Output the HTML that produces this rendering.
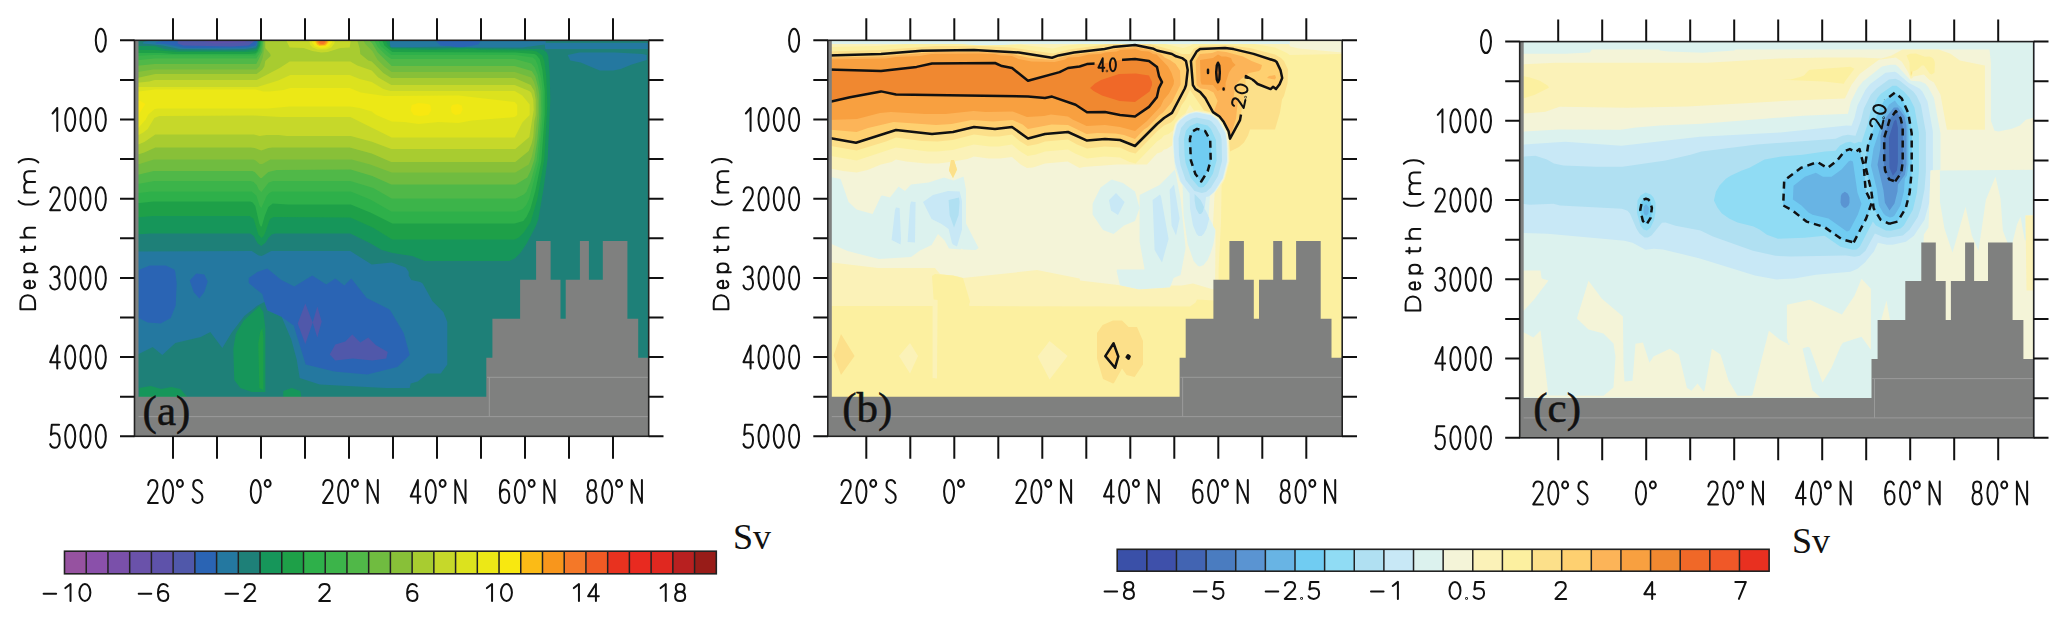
<!DOCTYPE html><html><head><meta charset="utf-8"><style>html,body{margin:0;padding:0;background:#fff;}svg{display:block;}</style></head><body>
<svg width="2067" height="620" viewBox="0 0 2067 620">
<rect width="2067" height="620" fill="#fff"/>
<defs>
<mask id="m1" maskUnits="userSpaceOnUse" x="-10" y="-10" width="540" height="420"><rect x="-10" y="-10" width="540" height="420" fill="#fff"/><rect x="-13.75" y="-10.0" width="27.5" height="20" fill="#000" transform="translate(280.5,24.7) rotate(0)"/><rect x="-18.0" y="-7.5" width="36" height="15" fill="#000" transform="translate(412.8,55.7) rotate(-78)"/></mask>
<mask id="m2" maskUnits="userSpaceOnUse" x="-10" y="-10" width="540" height="420"><rect x="-10" y="-10" width="540" height="420" fill="#fff"/><rect x="-18.0" y="-7.5" width="36" height="15" fill="#000" transform="translate(359.0,74.9) rotate(-77.5)"/></mask>
</defs>
<g transform="translate(134.5,40.3)">
<rect x="0" y="0" width="514.5" height="396.0" fill="#5e52aa"/>
<path fill="#5058aa" fill-rule="evenodd" d="M0.2 0.2L0.2 395.8L514.2 395.8L514.2 0.2L112.8 0.2L110.2 2.2L79.2 3.2L67.2 0.2Z"/>
<path fill="#2a64b4" fill-rule="evenodd" d="M195.2 314.2L200.8 304.2L210.8 301.2L217.8 294.2L225.8 302.2L233.8 297.2L241.2 304.8L253.2 311.8L251.8 318.2L237.8 320.2L218.2 318.2L200.8 320.2ZM182.8 266.2L187.2 281.2L182.8 297.2L178.2 282.2ZM170.8 263.2L178.2 282.2L170.8 303.8L163.2 283.2ZM0.2 0.2L0.2 395.8L514.2 395.8L514.2 0.2L120.8 0.2L114.2 5.2L96.8 6.2L48.8 5.2L43.2 3.2L43.2 0.2Z"/>
<path fill="#2478a0" fill-rule="evenodd" d="M61.8 233.2L69.8 234.2L73.2 241.2L69.8 251.8L64.8 258.2L59.2 251.8L55.2 240.2ZM114.2 237.8L122.8 231.8L132.8 228.2L146.8 239.8L159.8 246.2L177.8 235.2L191.8 244.2L200.8 238.2L209.8 245.2L216.8 238.2L232.2 257.8L254.2 268.8L255.8 270.2L269.2 292.8L275.2 314.8L262.8 326.8L232.8 334.2L199.8 331.2L171.2 324.2L159.2 285.2L147.2 276.8L132.2 269.8L127.8 253.8L114.2 242.8ZM15.2 225.2L31.2 225.2L39.8 229.2L40.8 231.8L42.2 243.2L41.2 265.2L36.2 277.8L26.2 283.2L13.2 282.2L4.2 277.8L4.2 229.8ZM0.2 0.2L0.2 395.8L514.2 395.8L514.2 0.2L346.2 0.2L343.8 4.2L327.2 7.2L305.8 5.2L301.2 0.2L122.8 0.2L121.2 5.2L111.8 7.2L50.8 7.8L30.8 3.8L21.2 3.2L21.2 2.2L30.8 0.2Z"/>
<path fill="#1e8078" fill-rule="evenodd" d="M433.2 14.8L444.8 12.2L480.8 12.2L507.8 13.8L512.2 14.8L512.2 19.8L497.2 24.2L486.2 28.8L478.8 30.2L465.2 30.2L446.2 22.2L435.8 20.2ZM0.2 0.2L0.2 211.2L117.2 210.8L124.2 215.2L127.2 215.8L136.8 210.8L215.8 210.8L237.2 224.2L257.2 222.2L271.2 227.2L274.2 231.8L274.2 235.2L276.8 239.8L285.8 241.8L288.2 243.2L297.8 260.8L308.8 271.8L312.8 281.8L312.8 324.2L306.2 333.2L293.2 333.2L283.2 341.2L276.2 343.2L275.2 347.8L251.2 347.8L185.2 344.2L165.2 337.8L162.2 319.2L156.8 299.2L147.2 276.8L132.8 270.2L129.8 261.8L122.2 265.8L109.8 275.8L97.2 292.2L87.8 307.8L75.8 291.8L66.2 296.8L40.8 302.8L27.8 314.8L18.2 306.8L0.2 315.8L0.2 359.8L275.2 359.8L275.8 395.8L514.2 395.8L514.2 0.2L411.2 0.2L411.2 2.8L513.8 2.8L513.8 8.8L410.8 8.8L410.2 4.2L387.8 7.2L323.8 7.2L315.8 6.2L255.8 7.2L255.2 0.2L123.2 0.2L122.8 4.8L121.2 7.2L111.2 8.8L89.8 9.2L45.2 8.8L28.2 5.2L8.8 3.2L8.2 2.8L9.2 1.8L14.8 0.2Z"/>
<path fill="#16965a" fill-rule="evenodd" d="M148.8 350.8L148.8 356.8L166.8 356.8L165.8 350.8L157.2 347.8ZM4.8 347.8L4.8 356.8L52.8 356.8L45.8 348.8L36.8 346.8L26.8 348.8L16.2 345.8ZM124.8 265.8L109.2 280.2L102.8 290.8L101.2 294.2L98.8 308.8L99.8 339.8L105.8 347.8L117.2 351.8L130.8 351.8L130.8 287.8L128.8 271.8ZM0.2 5.8L0.2 194.2L16.2 193.2L115.8 193.2L119.2 195.8L123.2 203.2L126.8 205.8L131.2 202.2L133.8 197.8L137.2 194.2L140.8 193.2L215.8 193.2L236.2 203.2L247.2 209.8L258.2 212.8L277.8 215.8L290.2 220.8L374.8 220.8L380.2 218.2L386.2 212.2L392.2 203.2L401.2 186.2L403.8 179.2L409.2 147.2L413.2 118.2L415.8 59.8L415.2 33.2L413.8 15.8L412.2 12.2L409.2 9.8L404.8 8.8L346.2 8.2L331.8 7.2L299.8 8.2L255.8 7.2L255.2 0.2L124.2 0.2L123.8 5.2L121.8 8.8L109.8 10.2L45.2 10.2L30.2 8.8L20.2 5.8Z"/>
<path fill="#1ea048" fill-rule="evenodd" d="M127.8 287.8L125.8 291.2L123.8 303.2L124.8 347.8L128.8 349.8L128.8 297.2ZM0.2 9.8L0.2 177.2L18.2 175.8L115.2 175.8L119.2 178.8L123.8 194.2L126.8 197.8L128.8 196.2L130.8 192.2L134.8 180.2L136.2 178.2L139.2 176.8L215.8 177.2L238.2 187.2L257.8 199.2L380.2 199.2L384.2 197.2L389.2 192.2L396.2 181.8L402.8 158.8L409.8 118.8L412.8 64.8L411.8 36.8L409.8 20.8L407.8 15.2L402.2 11.2L397.2 10.2L347.2 9.8L332.8 8.8L298.8 9.8L257.8 8.8L253.2 5.2L251.2 0.2L125.2 0.2L124.8 5.2L121.8 10.8L112.2 11.8L42.2 11.8L20.8 9.8Z"/>
<path fill="#2eb04a" fill-rule="evenodd" d="M0.2 12.8L0.2 163.2L19.2 161.2L115.8 161.2L118.2 162.2L120.8 165.8L124.8 183.2L126.2 186.2L127.2 186.2L130.2 175.8L133.8 166.8L138.2 163.2L153.2 164.2L216.2 164.2L235.8 172.2L257.8 183.2L380.2 183.2L388.8 180.8L392.2 176.2L395.8 168.8L400.8 150.8L406.8 121.2L410.2 74.8L410.2 50.2L407.8 29.2L405.2 18.8L401.8 14.8L399.8 13.8L381.2 12.2L257.8 11.8L249.8 5.2L247.8 0.2L126.2 0.2L125.8 5.2L122.8 11.8L120.8 13.2L114.2 13.8L38.8 13.8L27.2 12.8Z"/>
<path fill="#3cb44a" fill-rule="evenodd" d="M0.2 15.8L0.2 153.2L17.2 151.2L117.2 151.2L121.8 155.2L125.2 165.8L126.8 167.8L132.2 155.8L134.8 152.8L137.8 151.2L216.2 151.2L235.8 159.2L256.8 171.2L381.8 171.2L388.2 168.8L391.8 164.8L394.8 158.2L404.2 121.8L408.2 76.2L408.2 51.2L406.8 38.8L403.2 24.8L400.8 19.2L398.2 17.2L380.8 14.8L256.8 14.8L246.2 5.8L243.8 0.2L127.2 0.2L125.2 10.2L120.8 15.2L18.8 14.8Z"/>
<path fill="#50b848" fill-rule="evenodd" d="M0.2 20.2L0.2 144.2L19.8 140.8L116.2 140.8L119.2 141.8L122.2 144.8L124.2 149.2L126.8 151.8L134.2 142.2L138.8 140.8L215.8 140.8L238.8 147.8L257.2 158.2L381.2 158.2L389.2 154.2L391.8 151.8L396.2 141.2L402.2 119.8L405.2 93.2L406.8 71.2L406.2 50.8L403.2 34.8L400.2 27.2L396.8 23.2L380.2 18.8L256.8 18.8L251.8 15.2L243.2 6.8L239.8 0.2L128.2 0.2L126.2 11.2L121.8 18.2L20.2 18.2Z"/>
<path fill="#70bc40" fill-rule="evenodd" d="M0.2 25.8L0.2 135.2L19.2 130.8L117.8 130.8L120.2 131.8L125.8 137.8L127.2 137.8L133.8 131.8L142.2 129.8L216.2 129.2L237.8 135.8L256.8 144.2L381.2 144.2L392.8 137.2L396.2 130.2L399.8 119.2L402.8 99.8L404.8 76.2L404.8 54.8L403.8 47.8L400.8 36.2L397.2 30.8L380.2 25.8L257.2 25.8L243.2 12.2L237.8 3.2L234.8 0.2L128.8 0.2L127.8 11.8L121.8 23.8L20.2 23.8Z"/>
<path fill="#88c038" fill-rule="evenodd" d="M0.2 32.2L0.2 125.2L19.2 119.2L118.8 119.2L121.2 120.2L125.2 123.8L127.8 123.8L135.8 119.2L217.2 119.2L235.8 124.2L257.2 132.2L380.8 132.2L394.2 124.2L397.2 116.8L399.8 104.8L403.2 72.2L403.2 59.8L401.2 47.2L399.2 41.2L396.8 37.2L380.2 31.8L257.2 31.8L249.8 26.2L242.8 19.2L237.8 10.8L231.2 4.2L228.8 0.2L129.8 0.2L129.8 8.2L128.2 17.8L124.8 26.2L121.8 29.2L18.8 29.2Z"/>
<path fill="#a8cc30" fill-rule="evenodd" d="M0.2 38.2L0.2 115.2L9.8 112.2L20.8 107.2L116.2 107.2L120.2 107.8L126.8 110.2L133.8 107.8L138.2 107.2L215.2 107.2L237.2 113.2L256.8 121.8L380.8 121.8L394.2 110.8L397.2 103.2L398.8 96.2L399.8 81.2L401.2 74.8L401.2 59.8L399.8 50.8L396.2 44.8L380.2 37.8L256.8 37.8L248.8 32.8L237.2 21.2L233.8 20.2L225.8 13.8L225.2 8.2L222.8 0.2L130.8 0.2L130.8 7.8L135.8 13.8L136.2 15.8L130.8 20.8L129.8 26.2L127.8 29.2L122.2 33.8L20.8 33.8Z"/>
<path fill="#c6d82a" fill-rule="evenodd" d="M0.2 42.8L0.2 105.8L9.8 101.8L20.8 94.2L119.2 94.2L125.2 95.8L131.8 94.8L144.2 94.8L152.2 95.8L216.2 95.8L236.8 101.2L256.8 108.8L380.8 108.8L394.8 96.8L399.2 69.8L398.8 59.8L396.8 52.8L394.8 50.8L380.2 44.8L256.8 44.8L243.8 37.2L237.2 30.2L222.8 25.2L215.8 21.2L155.2 21.2L145.2 27.8L122.2 39.8L20.2 39.8L14.8 41.2ZM151.8 0.2L155.2 7.2L169.2 7.8L177.8 10.8L186.8 12.2L193.2 11.8L205.8 7.8L215.2 7.2L216.2 0.2Z"/>
<path fill="#dce21e" fill-rule="evenodd" d="M0.2 46.8L0.2 96.8L8.8 92.2L13.2 88.8L19.8 77.8L24.8 75.8L118.8 75.2L146.2 76.8L215.8 76.8L257.2 97.2L380.2 97.2L387.8 82.2L395.2 74.8L395.2 64.2L387.8 55.2L380.2 50.8L255.8 50.8L248.8 48.8L237.2 41.8L225.2 38.8L215.2 34.8L155.8 34.8L143.8 40.2L122.8 46.8ZM174.8 0.8L175.8 4.8L178.2 7.2L183.2 9.2L191.8 9.2L196.8 7.2L200.2 2.8L199.8 0.2Z"/>
<path fill="#ece816" fill-rule="evenodd" d="M0.2 51.8L0.2 89.2L3.8 87.8L11.2 79.2L13.8 74.2L20.2 68.8L23.2 68.2L133.2 68.2L155.2 66.2L215.8 66.2L225.2 67.8L237.2 71.2L241.8 74.8L257.2 81.2L269.8 81.8L284.2 83.8L303.8 81.8L323.8 82.8L337.2 80.2L380.2 76.8L382.8 74.8L382.8 64.8L380.2 61.8L324.2 55.2L250.2 55.8L226.2 52.2L215.2 47.8L155.8 47.8L149.2 49.8L135.2 51.2L128.8 51.2L121.2 49.2L20.2 49.2ZM177.2 1.8L180.2 6.2L186.8 8.2L191.2 7.8L194.8 6.2L197.8 1.8L197.2 0.2L177.8 0.2Z"/>
<path fill="#f8e810" fill-rule="evenodd" d="M317.8 64.8L316.2 67.2L317.2 72.2L320.8 74.8L325.8 73.8L328.2 69.2L327.2 65.2L323.2 63.8ZM277.2 64.8L276.2 70.2L279.2 74.8L285.8 75.8L293.8 74.8L296.8 70.2L295.8 64.8L293.2 63.8L284.2 62.8ZM5.8 60.8L0.2 60.8L0.2 79.8L3.2 77.8L5.8 71.8L10.8 63.8ZM179.2 1.2L180.2 4.2L184.8 6.8L191.8 6.2L193.8 5.2L195.8 2.2L195.2 0.2L179.8 0.2Z"/>
<path fill="#fbbb16" fill-rule="evenodd" d="M180.8 1.8L182.8 4.8L185.2 5.8L191.2 5.2L194.2 1.8L193.2 0.2L181.8 0.2Z"/>
<path fill="#f8961c" fill-rule="evenodd" d="M182.8 0.8L182.8 2.8L185.2 4.8L189.8 4.8L192.2 2.8L192.2 0.8L191.2 0.2Z"/>
<path fill="#f47828" fill-rule="evenodd" d="M184.2 1.2L184.2 2.2L186.2 3.8L188.8 3.8L190.8 2.2L190.8 1.2L188.8 0.2Z"/>
<polygon points="0.0,396.2 0.0,356.5 351.8,356.5 351.8,317.5 357.9,317.5 357.9,278.5 385.6,278.5 385.6,239.5 401.6,239.5 401.6,200.8 416.1,200.8 416.1,239.5 426.0,239.5 426.0,278.5 431.2,278.5 431.2,239.5 445.4,239.5 445.4,200.8 454.4,200.8 454.4,239.5 468.3,239.5 468.3,200.8 492.9,200.8 492.9,278.5 503.7,278.5 503.7,317.5 514.5,317.5 514.5,396.2" fill="#7f807f"/>
<rect x="0" y="0" width="4" height="396" fill="#7f807f"/>
<path d="M4 376.3H514 M352.5 337H514 M354.8 337V376.3" stroke="#9a9a9a" stroke-width="1" fill="none"/>
</g>
<rect x="134.5" y="40.3" width="514.2" height="396.0" fill="none" stroke="#222" stroke-width="1.6"/>
<path d="M173.0 18.3V40.3M173.0 436.3V458.8M217.0 18.3V40.3M217.0 436.3V458.8M261.0 18.3V40.3M261.0 436.3V458.8M305.0 18.3V40.3M305.0 436.3V458.8M349.0 18.3V40.3M349.0 436.3V458.8M393.0 18.3V40.3M393.0 436.3V458.8M437.0 18.3V40.3M437.0 436.3V458.8M481.0 18.3V40.3M481.0 436.3V458.8M525.0 18.3V40.3M525.0 436.3V458.8M569.0 18.3V40.3M569.0 436.3V458.8M613.0 18.3V40.3M613.0 436.3V458.8M120.0 40.3H134.5M648.7 40.3H663.5M120.0 79.9H134.5M648.7 79.9H663.5M120.0 119.5H134.5M648.7 119.5H663.5M120.0 159.1H134.5M648.7 159.1H663.5M120.0 198.7H134.5M648.7 198.7H663.5M120.0 238.3H134.5M648.7 238.3H663.5M120.0 277.9H134.5M648.7 277.9H663.5M120.0 317.5H134.5M648.7 317.5H663.5M120.0 357.1H134.5M648.7 357.1H663.5M120.0 396.7H134.5M648.7 396.7H663.5M120.0 436.3H134.5M648.7 436.3H663.5" stroke="#111" stroke-width="2" fill="none"/>
<g fill="none" stroke="#111" stroke-width="2.0" stroke-linecap="round" stroke-linejoin="round" vector-effect="non-scaling-stroke" style="vector-effect:non-scaling-stroke"><path d="M24.5 0C38 0 49 22 49 50C49 78 38 100 24.5 100C11 100 0 78 0 50C0 22 11 0 24.5 0Z" transform="translate(95.80,28.80) scale(0.2040,0.2300)" vector-effect="non-scaling-stroke"/><path d="M13 24L36 0L36 100" transform="translate(49.92,108.00) scale(0.2040,0.2300)" vector-effect="non-scaling-stroke"/><path d="M24.5 0C38 0 49 22 49 50C49 78 38 100 24.5 100C11 100 0 78 0 50C0 22 11 0 24.5 0Z" transform="translate(65.21,108.00) scale(0.2040,0.2300)" vector-effect="non-scaling-stroke"/><path d="M24.5 0C38 0 49 22 49 50C49 78 38 100 24.5 100C11 100 0 78 0 50C0 22 11 0 24.5 0Z" transform="translate(80.51,108.00) scale(0.2040,0.2300)" vector-effect="non-scaling-stroke"/><path d="M24.5 0C38 0 49 22 49 50C49 78 38 100 24.5 100C11 100 0 78 0 50C0 22 11 0 24.5 0Z" transform="translate(95.80,108.00) scale(0.2040,0.2300)" vector-effect="non-scaling-stroke"/><path d="M2 21C4 8 13 0 24.5 0C38 0 47 10 47 25C47 38 40 48 30 60L1 100L49 100" transform="translate(49.92,187.20) scale(0.2040,0.2300)" vector-effect="non-scaling-stroke"/><path d="M24.5 0C38 0 49 22 49 50C49 78 38 100 24.5 100C11 100 0 78 0 50C0 22 11 0 24.5 0Z" transform="translate(65.21,187.20) scale(0.2040,0.2300)" vector-effect="non-scaling-stroke"/><path d="M24.5 0C38 0 49 22 49 50C49 78 38 100 24.5 100C11 100 0 78 0 50C0 22 11 0 24.5 0Z" transform="translate(80.51,187.20) scale(0.2040,0.2300)" vector-effect="non-scaling-stroke"/><path d="M24.5 0C38 0 49 22 49 50C49 78 38 100 24.5 100C11 100 0 78 0 50C0 22 11 0 24.5 0Z" transform="translate(95.80,187.20) scale(0.2040,0.2300)" vector-effect="non-scaling-stroke"/><path d="M3 14C7 5 15 0 24.5 0C37 0 46 9 46 24C46 38 37 46 22 46C39 46 48 57 48 73C48 89 38 100 24 100C12 100 4 93 1 83" transform="translate(49.92,266.40) scale(0.2040,0.2300)" vector-effect="non-scaling-stroke"/><path d="M24.5 0C38 0 49 22 49 50C49 78 38 100 24.5 100C11 100 0 78 0 50C0 22 11 0 24.5 0Z" transform="translate(65.21,266.40) scale(0.2040,0.2300)" vector-effect="non-scaling-stroke"/><path d="M24.5 0C38 0 49 22 49 50C49 78 38 100 24.5 100C11 100 0 78 0 50C0 22 11 0 24.5 0Z" transform="translate(80.51,266.40) scale(0.2040,0.2300)" vector-effect="non-scaling-stroke"/><path d="M24.5 0C38 0 49 22 49 50C49 78 38 100 24.5 100C11 100 0 78 0 50C0 22 11 0 24.5 0Z" transform="translate(95.80,266.40) scale(0.2040,0.2300)" vector-effect="non-scaling-stroke"/><path d="M36 100L36 0L1 72L49 72" transform="translate(49.92,345.60) scale(0.2040,0.2300)" vector-effect="non-scaling-stroke"/><path d="M24.5 0C38 0 49 22 49 50C49 78 38 100 24.5 100C11 100 0 78 0 50C0 22 11 0 24.5 0Z" transform="translate(65.21,345.60) scale(0.2040,0.2300)" vector-effect="non-scaling-stroke"/><path d="M24.5 0C38 0 49 22 49 50C49 78 38 100 24.5 100C11 100 0 78 0 50C0 22 11 0 24.5 0Z" transform="translate(80.51,345.60) scale(0.2040,0.2300)" vector-effect="non-scaling-stroke"/><path d="M24.5 0C38 0 49 22 49 50C49 78 38 100 24.5 100C11 100 0 78 0 50C0 22 11 0 24.5 0Z" transform="translate(95.80,345.60) scale(0.2040,0.2300)" vector-effect="non-scaling-stroke"/><path d="M45 0L9 0L5 44C10 39 17 37 25 37C39 37 48 49 48 67C48 87 38 100 24 100C12 100 4 93 1 84" transform="translate(49.92,424.80) scale(0.2040,0.2300)" vector-effect="non-scaling-stroke"/><path d="M24.5 0C38 0 49 22 49 50C49 78 38 100 24.5 100C11 100 0 78 0 50C0 22 11 0 24.5 0Z" transform="translate(65.21,424.80) scale(0.2040,0.2300)" vector-effect="non-scaling-stroke"/><path d="M24.5 0C38 0 49 22 49 50C49 78 38 100 24.5 100C11 100 0 78 0 50C0 22 11 0 24.5 0Z" transform="translate(80.51,424.80) scale(0.2040,0.2300)" vector-effect="non-scaling-stroke"/><path d="M24.5 0C38 0 49 22 49 50C49 78 38 100 24.5 100C11 100 0 78 0 50C0 22 11 0 24.5 0Z" transform="translate(95.80,424.80) scale(0.2040,0.2300)" vector-effect="non-scaling-stroke"/><path d="M2 21C4 8 13 0 24.5 0C38 0 47 10 47 25C47 38 40 48 30 60L1 100L49 100" transform="translate(147.80,480.10) scale(0.2040,0.2280)" vector-effect="non-scaling-stroke"/><path d="M24.5 0C38 0 49 22 49 50C49 78 38 100 24.5 100C11 100 0 78 0 50C0 22 11 0 24.5 0Z" transform="translate(163.10,480.10) scale(0.2040,0.2280)" vector-effect="non-scaling-stroke"/><path d="M14.5 0C22.5 0 29 6.7 29 15C29 23.3 22.5 30 14.5 30C6.5 30 0 23.3 0 15C0 6.7 6.5 0 14.5 0Z" transform="translate(176.99,480.10) scale(0.2040,0.2280)" vector-effect="non-scaling-stroke"/><path d="M46 13C42 5 35 0 25 0C13 0 4 8 4 23C4 53 49 44 49 75C49 91 38 100 25 100C13 100 5 94 1 84" transform="translate(192.41,480.10) scale(0.2040,0.2280)" vector-effect="non-scaling-stroke"/><path d="M24.5 0C38 0 49 22 49 50C49 78 38 100 24.5 100C11 100 0 78 0 50C0 22 11 0 24.5 0Z" transform="translate(250.80,480.10) scale(0.2040,0.2280)" vector-effect="non-scaling-stroke"/><path d="M14.5 0C22.5 0 29 6.7 29 15C29 23.3 22.5 30 14.5 30C6.5 30 0 23.3 0 15C0 6.7 6.5 0 14.5 0Z" transform="translate(264.70,480.10) scale(0.2040,0.2280)" vector-effect="non-scaling-stroke"/><path d="M2 21C4 8 13 0 24.5 0C38 0 47 10 47 25C47 38 40 48 30 60L1 100L49 100" transform="translate(322.80,480.10) scale(0.2040,0.2280)" vector-effect="non-scaling-stroke"/><path d="M24.5 0C38 0 49 22 49 50C49 78 38 100 24.5 100C11 100 0 78 0 50C0 22 11 0 24.5 0Z" transform="translate(338.10,480.10) scale(0.2040,0.2280)" vector-effect="non-scaling-stroke"/><path d="M14.5 0C22.5 0 29 6.7 29 15C29 23.3 22.5 30 14.5 30C6.5 30 0 23.3 0 15C0 6.7 6.5 0 14.5 0Z" transform="translate(351.99,480.10) scale(0.2040,0.2280)" vector-effect="non-scaling-stroke"/><path d="M1 100L1 0L51 100L51 0" transform="translate(367.41,480.10) scale(0.2040,0.2280)" vector-effect="non-scaling-stroke"/><path d="M36 100L36 0L1 72L49 72" transform="translate(410.50,480.10) scale(0.2040,0.2280)" vector-effect="non-scaling-stroke"/><path d="M24.5 0C38 0 49 22 49 50C49 78 38 100 24.5 100C11 100 0 78 0 50C0 22 11 0 24.5 0Z" transform="translate(425.80,480.10) scale(0.2040,0.2280)" vector-effect="non-scaling-stroke"/><path d="M14.5 0C22.5 0 29 6.7 29 15C29 23.3 22.5 30 14.5 30C6.5 30 0 23.3 0 15C0 6.7 6.5 0 14.5 0Z" transform="translate(439.69,480.10) scale(0.2040,0.2280)" vector-effect="non-scaling-stroke"/><path d="M1 100L1 0L51 100L51 0" transform="translate(455.11,480.10) scale(0.2040,0.2280)" vector-effect="non-scaling-stroke"/><path d="M45 13C41 4 34 0 26 0C10 0 2 22 2 55C2 84 11 100 25 100C39 100 48 88 48 70C48 52 39 41 26 41C14 41 5 49 2 60" transform="translate(499.50,480.10) scale(0.2040,0.2280)" vector-effect="non-scaling-stroke"/><path d="M24.5 0C38 0 49 22 49 50C49 78 38 100 24.5 100C11 100 0 78 0 50C0 22 11 0 24.5 0Z" transform="translate(514.80,480.10) scale(0.2040,0.2280)" vector-effect="non-scaling-stroke"/><path d="M14.5 0C22.5 0 29 6.7 29 15C29 23.3 22.5 30 14.5 30C6.5 30 0 23.3 0 15C0 6.7 6.5 0 14.5 0Z" transform="translate(528.69,480.10) scale(0.2040,0.2280)" vector-effect="non-scaling-stroke"/><path d="M1 100L1 0L51 100L51 0" transform="translate(544.11,480.10) scale(0.2040,0.2280)" vector-effect="non-scaling-stroke"/><path d="M24.5 46C12 46 5 37 5 23C5 9 12 0 24.5 0C37 0 44 9 44 23C44 37 37 46 24.5 46C11 46 2 57 2 73C2 90 11 100 24.5 100C38 100 47 90 47 73C47 57 38 46 24.5 46Z" transform="translate(586.90,480.10) scale(0.2040,0.2280)" vector-effect="non-scaling-stroke"/><path d="M24.5 0C38 0 49 22 49 50C49 78 38 100 24.5 100C11 100 0 78 0 50C0 22 11 0 24.5 0Z" transform="translate(602.20,480.10) scale(0.2040,0.2280)" vector-effect="non-scaling-stroke"/><path d="M14.5 0C22.5 0 29 6.7 29 15C29 23.3 22.5 30 14.5 30C6.5 30 0 23.3 0 15C0 6.7 6.5 0 14.5 0Z" transform="translate(616.09,480.10) scale(0.2040,0.2280)" vector-effect="non-scaling-stroke"/><path d="M1 100L1 0L51 100L51 0" transform="translate(631.51,480.10) scale(0.2040,0.2280)" vector-effect="non-scaling-stroke"/></g>
<path d="M2 0L2 100L42 100C76 100 98 80 98 50C98 20 76 0 42 0Z" transform="translate(35.10,309.60) rotate(-90) scale(0.147) translate(0,-100)" fill="none" stroke="#111" stroke-width="2" stroke-linecap="round" stroke-linejoin="round" vector-effect="non-scaling-stroke"/>
<path d="M2 64L52 64C52 42 42 26 27 26C12 26 2 42 2 63C2 85 12 100 27 100C38 100 46 94 50 86" transform="translate(35.10,288.50) rotate(-90) scale(0.147) translate(0,-100)" fill="none" stroke="#111" stroke-width="2" stroke-linecap="round" stroke-linejoin="round" vector-effect="non-scaling-stroke"/>
<path d="M2 26L2 116M2 63C2 40 15 26 32 26C49 26 62 40 62 63C62 86 49 100 32 100C15 100 2 86 2 63" transform="translate(35.10,272.60) rotate(-90) scale(0.147) translate(0,-100)" fill="none" stroke="#111" stroke-width="2" stroke-linecap="round" stroke-linejoin="round" vector-effect="non-scaling-stroke"/>
<path d="M14 4L14 86C14 95 19 100 27 100L38 100M0 26L38 26" transform="translate(35.10,252.00) rotate(-90) scale(0.147) translate(0,-100)" fill="none" stroke="#111" stroke-width="2" stroke-linecap="round" stroke-linejoin="round" vector-effect="non-scaling-stroke"/>
<path d="M2 0L2 100M2 56C2 37 16 26 36 26C56 26 68 37 68 54L68 100" transform="translate(35.10,237.70) rotate(-90) scale(0.147) translate(0,-100)" fill="none" stroke="#111" stroke-width="2" stroke-linecap="round" stroke-linejoin="round" vector-effect="non-scaling-stroke"/>
<path d="M38 -12C6 14 6 96 38 122" transform="translate(35.10,206.60) rotate(-90) scale(0.147) translate(0,-100)" fill="none" stroke="#111" stroke-width="2" stroke-linecap="round" stroke-linejoin="round" vector-effect="non-scaling-stroke"/>
<path d="M2 26L2 100M2 56C2 37 15 26 38 26C61 26 75 37 75 56L75 100M75 56C75 37 89 26 112 26C135 26 148 37 148 56L148 100" transform="translate(35.10,192.90) rotate(-90) scale(0.147) translate(0,-100)" fill="none" stroke="#111" stroke-width="2" stroke-linecap="round" stroke-linejoin="round" vector-effect="non-scaling-stroke"/>
<path d="M2 -12C34 14 34 96 2 122" transform="translate(35.10,162.70) rotate(-90) scale(0.147) translate(0,-100)" fill="none" stroke="#111" stroke-width="2" stroke-linecap="round" stroke-linejoin="round" vector-effect="non-scaling-stroke"/>
<text x="142.6" y="425.3" style="font-family:'Liberation Serif',serif;font-size:43px" fill="#111" stroke="#111" stroke-width="0.5">(a)</text>
<g transform="translate(827.8,40.3)">
<rect x="0" y="0" width="514.5" height="396.0" fill="#70ccf2"/>
<path fill="#90dcf4" fill-rule="evenodd" d="M369.2 88.2L377.2 90.2L382.8 99.8L383.2 120.2L380.2 130.8L373.2 141.8L367.2 133.8L362.8 120.2L361.8 98.8L363.2 92.8L364.8 90.8ZM0.2 0.2L0.2 395.8L514.2 395.8L514.2 0.2Z"/>
<path fill="#b0e0f2" fill-rule="evenodd" d="M369.2 82.8L379.8 85.2L383.2 88.8L388.2 99.8L388.8 120.2L385.2 133.2L379.2 143.2L375.8 146.8L373.2 147.2L370.8 146.8L362.8 137.2L357.8 122.8L356.8 114.8L356.2 98.8L358.2 90.2L362.2 85.8ZM0.2 0.2L0.2 395.8L514.2 395.8L514.2 0.2Z"/>
<path fill="#c8e8f6" fill-rule="evenodd" d="M131.2 157.2L131.8 161.8L130.8 174.8L126.2 187.2L121.8 174.8L120.8 159.8ZM366.8 153.8L372.8 159.8L376.2 166.8L375.2 171.2L373.2 173.8L371.2 173.8L368.2 168.2L366.8 160.2ZM368.8 77.2L381.2 79.8L383.8 81.2L388.2 86.2L392.8 94.8L393.8 99.2L394.2 120.8L390.2 135.8L383.2 147.2L378.2 151.8L373.8 152.8L366.8 150.8L357.8 139.8L352.8 125.2L351.2 115.2L350.8 98.2L353.2 87.8L358.2 81.8L364.2 78.2ZM0.2 0.2L0.2 395.8L514.2 395.8L514.2 0.2Z"/>
<path fill="#dcf2ee" fill-rule="evenodd" d="M68.2 167.2L71.8 167.8L73.2 198.2L72.8 204.2L63.8 199.8L67.2 169.8ZM83.2 161.2L87.8 161.8L87.2 202.2L79.8 201.8L82.2 165.2ZM332.2 154.2L333.2 156.2L340.8 198.8L334.2 222.2L326.8 209.8L324.8 159.8ZM288.2 152.8L296.8 161.8L290.2 174.8L283.2 170.2L281.2 159.8ZM105.2 154.8L120.2 150.8L131.8 151.2L134.2 160.8L134.2 189.2L129.2 206.2L125.2 204.2L124.2 202.8L120.8 188.8L113.8 183.8L103.8 178.8L95.2 161.8ZM346.2 144.2L351.8 178.2L348.2 195.2L343.8 185.2L341.8 149.8ZM368.8 72.2L383.8 75.2L389.8 79.8L397.2 92.2L398.8 99.2L399.2 120.8L394.8 138.2L385.8 152.2L380.8 156.2L378.2 156.8L376.8 168.2L381.2 176.8L381.2 179.2L378.8 188.2L376.2 193.2L373.8 195.8L370.8 195.8L368.8 193.8L365.2 185.2L362.2 168.2L361.8 153.2L352.8 141.2L346.8 120.8L345.8 98.2L349.2 84.2L352.2 80.2L357.2 76.2L361.8 73.8ZM0.2 0.2L0.2 395.8L514.2 395.8L514.2 0.2Z"/>
<path fill="#f4f4d8" fill-rule="evenodd" d="M283.8 139.2L295.2 142.8L307.2 151.2L311.8 167.8L307.2 180.8L296.2 185.2L285.8 193.8L275.2 189.8L264.8 174.2L264.8 163.2L272.8 147.2ZM347.2 129.2L352.8 158.8L357.8 207.8L352.8 234.8L345.8 237.8L342.2 247.2L311.2 249.2L292.2 245.2L288.8 230.8L289.2 229.2L316.8 229.2L311.8 201.2L311.8 154.8L331.8 144.8ZM367.2 71.8L372.2 71.8L383.2 74.2L390.8 79.8L398.2 92.8L399.8 108.2L399.8 122.2L395.8 137.8L388.2 150.2L382.2 155.8L380.8 176.2L387.8 189.8L385.8 202.8L383.2 211.8L379.8 219.8L375.8 224.8L372.2 226.2L370.2 225.8L365.8 220.8L359.8 203.2L355.8 174.8L354.8 145.2L351.8 140.8L347.2 127.2L345.2 106.8L345.2 96.8L348.8 83.8L351.2 80.2L356.8 75.8L362.2 72.8ZM514.2 0.2L462.2 0.2L461.8 3.8L192.8 3.8L169.8 5.2L140.2 4.8L131.8 3.8L0.2 3.8L0.2 136.2L12.8 138.8L20.8 161.8L28.8 169.2L44.8 173.8L53.2 155.8L54.8 155.2L62.2 157.2L70.8 146.2L77.2 150.8L83.2 144.2L100.8 142.2L116.2 137.2L125.8 140.2L135.8 136.2L138.2 149.8L138.2 183.2L150.8 207.8L147.8 209.8L135.2 209.2L133.8 208.2L132.8 209.2L121.2 208.2L116.8 200.2L110.2 193.8L103.8 204.8L92.2 210.2L83.2 216.8L51.2 218.8L19.8 210.8L0.2 202.2L0.2 395.8L514.2 395.8Z"/>
<path fill="#fbf2b8" fill-rule="evenodd" d="M0.2 3.8L0.2 127.8L15.2 130.8L28.8 132.2L39.8 129.8L53.2 124.2L63.8 121.8L68.2 119.2L78.2 121.2L98.2 123.2L110.8 123.2L122.2 121.8L122.8 123.2L121.2 130.2L125.2 137.8L129.2 129.8L126.8 121.8L128.2 120.8L139.8 118.8L146.2 116.2L160.8 118.2L172.2 118.2L184.2 116.8L192.8 124.2L199.2 127.8L205.2 127.2L217.2 123.2L239.8 121.2L251.8 127.8L255.8 126.8L289.2 124.2L319.2 124.2L329.2 113.2L333.8 111.8L336.2 109.2L338.8 108.8L344.2 105.2L345.2 92.8L347.2 84.8L350.2 80.2L359.2 73.2L368.2 70.8L384.2 73.8L391.8 79.8L398.8 91.8L400.2 98.8L400.8 121.2L396.2 138.8L386.8 153.2L385.2 185.2L387.8 189.8L387.2 249.8L365.2 243.2L353.8 245.2L343.2 245.2L342.2 247.2L311.2 249.2L290.2 244.8L252.2 240.2L251.8 238.2L209.2 229.8L134.8 237.8L128.2 235.8L112.2 233.8L107.2 227.8L50.2 227.8L0.2 221.8L0.2 395.8L514.2 395.8L514.2 12.2L471.2 8.2L462.2 6.2L461.2 3.8L192.8 3.8L169.8 5.2L140.2 4.8L131.8 3.8Z"/>
<path fill="#fcf0a0" fill-rule="evenodd" d="M82.2 302.8L90.2 315.8L82.2 333.2L71.2 315.8ZM221.8 300.8L239.8 315.8L221.8 339.2L209.8 316.2ZM123.2 119.8L121.2 130.2L125.2 137.8L129.2 129.2L126.2 119.8ZM0.2 6.8L0.2 115.2L28.8 120.2L68.2 107.2L99.8 111.2L109.2 111.2L124.8 109.8L146.2 104.2L162.2 106.2L171.2 106.2L184.2 104.2L191.2 110.2L199.8 115.8L208.2 114.2L217.2 111.2L240.2 109.2L247.2 113.2L259.2 118.2L276.8 116.2L292.2 117.2L301.8 121.8L307.8 123.2L329.2 101.2L333.8 98.2L336.2 95.2L340.8 93.8L345.2 90.2L347.2 82.8L351.8 77.2L357.8 72.8L362.2 64.2L366.2 70.2L370.8 69.8L384.2 72.8L391.8 78.2L399.8 91.8L401.2 99.2L401.8 120.8L397.2 138.8L393.8 144.8L393.2 181.8L390.8 228.2L390.8 249.8L387.8 252.8L387.2 260.2L369.2 259.2L367.8 262.2L362.2 266.2L141.8 265.8L141.2 264.8L142.2 261.2L135.2 237.8L125.2 235.2L107.2 233.8L104.2 235.8L105.8 259.2L109.8 259.8L109.2 338.2L104.8 337.8L104.8 265.8L0.2 265.8L0.2 395.8L514.2 395.8L514.2 13.8L461.8 14.8L459.2 12.8L447.2 7.2L426.8 3.8L365.2 3.8L362.2 5.8L355.2 7.8L337.2 3.8L252.2 3.8L235.8 5.8L225.2 8.2L192.2 4.2L155.2 5.2L131.8 3.8L77.8 3.8L49.2 5.8Z"/>
<path fill="#fce08a" fill-rule="evenodd" d="M13.2 293.8L5.8 315.2L13.2 334.8L26.8 315.8ZM294.2 280.2L285.2 280.2L274.8 284.8L269.2 292.8L269.2 318.2L275.2 338.8L285.2 343.2L286.2 342.8L294.2 328.2L298.8 334.8L306.8 336.8L315.2 324.2L315.2 300.8L309.2 286.8L300.8 286.8ZM123.2 119.8L121.2 130.2L125.2 137.8L129.2 129.2L126.2 119.8ZM460.2 29.2L456.2 20.8L453.2 17.8L447.2 14.2L422.2 7.8L397.8 4.8L372.2 5.8L366.2 8.2L362.2 13.8L354.2 13.8L344.2 9.8L322.2 3.8L280.8 3.8L241.2 9.2L225.8 13.2L182.8 7.2L154.8 5.8L107.8 5.8L54.2 9.8L0.2 11.2L0.2 105.2L28.8 110.2L58.2 101.2L68.2 97.2L94.2 100.8L109.8 101.2L124.8 99.8L146.2 94.2L161.8 96.2L171.2 96.2L184.2 94.2L191.8 100.8L199.8 105.8L210.2 103.8L217.2 101.2L240.2 99.2L249.2 104.2L259.2 108.2L276.8 106.2L292.2 107.2L301.8 111.8L307.8 113.2L329.2 91.2L336.2 85.2L343.2 82.2L345.8 79.8L349.8 73.8L353.8 64.8L357.2 60.2L362.2 49.8L376.2 70.2L386.2 72.8L390.2 75.8L395.8 82.2L400.8 92.8L402.2 111.2L411.2 106.8L416.2 102.2L420.2 95.2L422.2 89.2L447.2 89.2L452.2 72.2L454.2 59.2L456.2 55.8L459.8 42.8Z"/>
<path fill="#fed070" fill-rule="evenodd" d="M299.8 315.2L299.2 317.2L300.8 318.2L301.8 316.2ZM285.8 303.2L277.8 315.8L287.2 327.2L290.2 316.2ZM372.2 8.8L369.2 10.8L363.2 20.8L365.2 44.8L366.8 47.8L370.2 50.8L372.2 51.2L378.8 58.8L382.2 64.2L385.2 71.8L390.2 74.8L395.2 80.2L401.2 91.2L402.2 98.2L402.8 95.2L408.8 86.8L412.2 79.2L417.8 47.8L417.8 35.8L418.2 35.2L424.2 38.8L429.2 43.2L433.2 44.2L438.2 47.2L443.2 48.8L445.2 46.2L447.8 48.8L451.8 43.8L454.2 38.2L452.2 28.8L448.2 21.2L426.2 13.8L398.8 7.8ZM359.2 24.2L358.2 21.2L354.2 17.8L347.8 16.2L344.2 13.8L332.8 10.8L329.8 10.8L326.2 8.8L310.8 5.2L295.2 5.8L282.8 7.2L276.2 9.2L265.8 9.8L257.8 11.8L246.8 12.2L239.2 14.2L230.2 15.2L224.2 17.8L191.2 12.2L148.8 9.8L88.8 10.8L50.8 14.2L1.8 15.2L0.2 15.8L0.2 97.2L28.2 102.2L68.2 89.2L100.8 93.2L108.2 93.2L124.2 91.8L146.2 86.2L162.2 88.2L171.2 88.2L184.2 86.2L199.8 97.8L217.2 93.2L240.2 91.2L250.2 96.8L259.2 100.2L277.2 98.2L292.2 99.2L301.8 103.8L307.8 105.2L321.2 91.2L327.2 86.2L329.2 83.2L336.2 77.2L342.2 74.2L345.2 70.8L353.8 55.2L357.8 45.8L359.8 31.2Z"/>
<path fill="#fcb458" fill-rule="evenodd" d="M300.2 316.2L301.2 316.2L301.2 317.8L300.2 317.8ZM448.2 37.2L447.2 34.8L441.2 35.8L439.2 37.8L447.2 39.2ZM372.2 13.8L367.8 20.8L368.8 44.8L372.8 48.2L379.8 49.2L385.8 52.2L389.8 60.8L386.2 71.2L391.8 74.8L396.8 80.8L401.8 90.2L402.8 96.2L408.2 78.2L410.2 59.8L405.8 56.8L407.8 44.8L412.8 39.2L421.2 32.8L431.2 30.8L433.2 28.8L434.2 24.8L423.8 20.8L415.2 16.2L398.2 11.8L389.8 10.8L384.2 12.8ZM352.2 30.2L347.8 23.8L342.2 19.8L336.8 17.2L333.8 14.2L322.2 9.8L307.8 6.8L290.2 8.2L278.2 10.8L248.2 14.2L236.2 16.2L225.2 19.8L201.8 17.8L184.2 13.8L155.8 11.8L107.8 11.8L53.8 16.2L0.2 17.2L0.2 89.2L28.8 91.8L40.2 87.8L65.8 81.8L108.2 84.8L123.8 83.8L143.8 79.8L165.2 81.2L184.8 79.8L194.8 84.2L200.2 88.8L223.8 84.2L240.2 84.8L258.8 93.8L269.2 92.8L287.8 93.2L296.2 94.8L307.2 98.8L316.2 89.2L320.2 86.8L331.8 74.8L335.2 72.2L344.2 61.8L352.8 44.2Z"/>
<path fill="#f8a040" fill-rule="evenodd" d="M372.2 19.8L372.8 40.8L373.8 44.2L385.2 44.8L389.8 50.8L393.2 49.2L396.8 51.2L397.8 50.2L397.8 42.8L401.2 32.2L404.2 27.8L407.8 24.8L404.8 21.8L403.2 17.8L398.2 16.2L393.8 16.2L390.2 14.2L385.2 17.8ZM346.2 40.2L343.8 32.8L340.2 26.2L328.8 14.2L325.2 13.8L321.2 11.2L313.8 10.8L307.8 8.8L292.2 9.8L288.8 11.2L277.2 12.2L272.8 13.8L261.2 14.2L250.8 16.8L240.2 17.2L237.2 19.2L226.8 21.8L203.8 21.2L190.8 18.8L184.2 15.8L173.2 15.2L167.2 13.8L149.8 13.2L103.2 13.8L91.8 15.8L68.2 16.8L58.2 18.2L0.2 19.2L0.2 79.8L29.2 78.8L52.2 72.8L63.2 71.8L97.2 73.8L117.8 73.8L145.8 70.8L157.8 71.8L184.8 71.2L199.2 76.8L216.2 75.8L223.2 74.2L240.2 76.2L244.8 79.2L258.8 85.8L277.2 84.8L292.2 86.8L307.2 90.8L319.2 80.8L332.8 66.2L335.8 59.8L341.2 53.2L345.8 44.2Z"/>
<path fill="#f08830" fill-rule="evenodd" d="M395.8 48.2L396.8 48.2L396.8 49.8L395.8 49.8ZM379.8 29.8L381.2 29.8L381.2 32.8L379.8 32.8ZM390.2 22.8L388.8 26.8L388.8 37.8L390.2 41.8L391.8 37.2L391.8 27.2ZM333.8 41.2L330.8 35.8L329.2 27.2L321.2 20.8L313.2 20.2L307.2 18.8L292.2 19.8L276.2 23.2L259.2 23.8L251.2 26.8L240.2 27.8L233.2 31.8L199.8 40.8L194.2 36.8L184.2 27.8L174.2 26.2L167.2 22.8L104.2 23.2L87.8 27.2L68.2 28.8L57.8 30.8L0.2 29.2L0.2 61.8L18.2 57.2L52.8 50.8L66.2 53.8L200.2 55.8L211.8 57.2L225.8 56.2L248.2 64.2L255.2 68.2L259.2 71.8L277.2 71.2L293.2 74.8L307.8 75.8L314.8 70.2L320.2 67.2L329.2 56.2L330.2 49.2Z"/>
<path fill="#f06828" fill-rule="evenodd" d="M324.2 41.8L321.2 35.2L308.2 33.2L291.2 33.8L273.2 39.8L267.2 43.2L262.2 47.8L265.8 50.8L274.2 55.2L291.8 60.8L307.2 61.8L321.8 51.2L324.2 44.8Z"/>
<g mask="url(#m1)"><path fill="none" stroke="#111" stroke-width="2.5" stroke-linejoin="round" d="M0.2 15.3L53.2 13.7L93.8 10.5L146.2 9.6L191.2 12.2L224.2 17.4L230.8 15.1L246.2 12.3L276.8 8.7L285.2 6.8L307.2 4.8L325.8 8.5L329.2 10.2L344.2 13.7L348.2 16.0L354.3 17.8L358.2 20.8L359.9 29.8L358.2 44.8L357.0 48.2L344.2 72.6L336.2 77.7L329.2 83.7L307.2 105.7L292.2 99.7L277.2 98.7L259.2 100.3L240.2 91.7L217.2 93.7L200.2 98.2L184.2 86.7L167.2 88.7L146.2 86.7L125.2 91.7L104.2 93.7L68.2 89.7L28.2 102.4L0.2 97.5M402.2 98.3L400.7 90.8L396.0 81.8L391.7 76.2L385.2 71.8L377.5 57.8L372.4 51.8L367.6 48.8L365.1 44.8L363.1 20.8L368.8 11.3L372.2 8.6L397.2 7.6L405.8 8.8L425.8 13.6L447.2 20.5L448.9 21.8L452.7 29.8L454.4 37.8L451.8 43.9L448.2 48.8L445.2 46.5L442.8 48.8L429.8 43.7L425.8 40.0L418.1 35.8L417.5 49.8L412.2 79.8ZM287.2 327.5L277.5 315.8L285.8 303.0L290.5 316.2ZM300.8 318.4L298.9 316.8L300.2 314.9L301.8 316.2Z"/><path fill="none" stroke="#111" stroke-width="2.5" stroke-linejoin="round" d="M0.2 29.2L53.2 30.7L88.8 26.6L104.2 23.2L167.2 22.7L174.1 25.8L184.3 27.8L200.2 40.5L231.8 31.8L240.2 27.7L251.8 26.2L259.1 23.8L277.2 22.7L292.2 19.7L307.2 18.7L321.2 20.7L329.2 26.8L331.2 35.8L334.2 41.8L331.1 47.8L329.1 56.8L321.2 66.6L307.2 76.2L292.2 74.7L277.2 71.7L259.2 71.9L247.8 64.5L224.2 56.3L217.2 57.7L200.2 56.2L68.2 54.2L53.2 51.1L22.2 56.9L0.2 62.0M390.2 42.0L389.0 39.2L388.4 32.2L389.0 25.2L390.2 22.4L391.5 25.2L392.0 32.2L391.5 39.2ZM380.2 32.7L380.2 29.5ZM395.8 49.3L395.8 48.1Z"/><path fill="none" stroke="#111" stroke-width="2.5" stroke-linejoin="round" stroke-dasharray="7 5" d="M373.4 141.2L379.9 130.8L382.9 120.2L382.4 99.8L377.2 90.6L369.2 88.6L364.8 91.1L363.6 92.8L362.1 98.8L363.1 120.2L367.6 133.8Z"/></g>
<polygon points="0.0,396.2 0.0,356.5 351.8,356.5 351.8,317.5 357.9,317.5 357.9,278.5 385.6,278.5 385.6,239.5 401.6,239.5 401.6,200.8 416.1,200.8 416.1,239.5 426.0,239.5 426.0,278.5 431.2,278.5 431.2,239.5 445.4,239.5 445.4,200.8 454.4,200.8 454.4,239.5 468.3,239.5 468.3,200.8 492.9,200.8 492.9,278.5 503.7,278.5 503.7,317.5 514.5,317.5 514.5,396.2" fill="#7f807f"/>
<rect x="0" y="0" width="4" height="396" fill="#7f807f"/>
<path d="M4 376.3H514 M352.5 337H514 M354.8 337V376.3" stroke="#9a9a9a" stroke-width="1" fill="none"/>
</g>
<rect x="827.8" y="40.3" width="514.4" height="396.0" fill="none" stroke="#222" stroke-width="1.6"/>
<path d="M866.3 18.3V40.3M866.3 436.3V458.8M910.3 18.3V40.3M910.3 436.3V458.8M954.3 18.3V40.3M954.3 436.3V458.8M998.3 18.3V40.3M998.3 436.3V458.8M1042.3 18.3V40.3M1042.3 436.3V458.8M1086.3 18.3V40.3M1086.3 436.3V458.8M1130.3 18.3V40.3M1130.3 436.3V458.8M1174.3 18.3V40.3M1174.3 436.3V458.8M1218.3 18.3V40.3M1218.3 436.3V458.8M1262.3 18.3V40.3M1262.3 436.3V458.8M1306.3 18.3V40.3M1306.3 436.3V458.8M813.3 40.3H827.8M1342.2 40.3H1357.0M813.3 79.9H827.8M1342.2 79.9H1357.0M813.3 119.5H827.8M1342.2 119.5H1357.0M813.3 159.1H827.8M1342.2 159.1H1357.0M813.3 198.7H827.8M1342.2 198.7H1357.0M813.3 238.3H827.8M1342.2 238.3H1357.0M813.3 277.9H827.8M1342.2 277.9H1357.0M813.3 317.5H827.8M1342.2 317.5H1357.0M813.3 357.1H827.8M1342.2 357.1H1357.0M813.3 396.7H827.8M1342.2 396.7H1357.0M813.3 436.3H827.8M1342.2 436.3H1357.0" stroke="#111" stroke-width="2" fill="none"/>
<g fill="none" stroke="#111" stroke-width="2.0" stroke-linecap="round" stroke-linejoin="round" vector-effect="non-scaling-stroke" style="vector-effect:non-scaling-stroke"><path d="M24.5 0C38 0 49 22 49 50C49 78 38 100 24.5 100C11 100 0 78 0 50C0 22 11 0 24.5 0Z" transform="translate(789.10,28.80) scale(0.2040,0.2300)" vector-effect="non-scaling-stroke"/><path d="M13 24L36 0L36 100" transform="translate(743.22,108.00) scale(0.2040,0.2300)" vector-effect="non-scaling-stroke"/><path d="M24.5 0C38 0 49 22 49 50C49 78 38 100 24.5 100C11 100 0 78 0 50C0 22 11 0 24.5 0Z" transform="translate(758.51,108.00) scale(0.2040,0.2300)" vector-effect="non-scaling-stroke"/><path d="M24.5 0C38 0 49 22 49 50C49 78 38 100 24.5 100C11 100 0 78 0 50C0 22 11 0 24.5 0Z" transform="translate(773.81,108.00) scale(0.2040,0.2300)" vector-effect="non-scaling-stroke"/><path d="M24.5 0C38 0 49 22 49 50C49 78 38 100 24.5 100C11 100 0 78 0 50C0 22 11 0 24.5 0Z" transform="translate(789.10,108.00) scale(0.2040,0.2300)" vector-effect="non-scaling-stroke"/><path d="M2 21C4 8 13 0 24.5 0C38 0 47 10 47 25C47 38 40 48 30 60L1 100L49 100" transform="translate(743.22,187.20) scale(0.2040,0.2300)" vector-effect="non-scaling-stroke"/><path d="M24.5 0C38 0 49 22 49 50C49 78 38 100 24.5 100C11 100 0 78 0 50C0 22 11 0 24.5 0Z" transform="translate(758.51,187.20) scale(0.2040,0.2300)" vector-effect="non-scaling-stroke"/><path d="M24.5 0C38 0 49 22 49 50C49 78 38 100 24.5 100C11 100 0 78 0 50C0 22 11 0 24.5 0Z" transform="translate(773.81,187.20) scale(0.2040,0.2300)" vector-effect="non-scaling-stroke"/><path d="M24.5 0C38 0 49 22 49 50C49 78 38 100 24.5 100C11 100 0 78 0 50C0 22 11 0 24.5 0Z" transform="translate(789.10,187.20) scale(0.2040,0.2300)" vector-effect="non-scaling-stroke"/><path d="M3 14C7 5 15 0 24.5 0C37 0 46 9 46 24C46 38 37 46 22 46C39 46 48 57 48 73C48 89 38 100 24 100C12 100 4 93 1 83" transform="translate(743.22,266.40) scale(0.2040,0.2300)" vector-effect="non-scaling-stroke"/><path d="M24.5 0C38 0 49 22 49 50C49 78 38 100 24.5 100C11 100 0 78 0 50C0 22 11 0 24.5 0Z" transform="translate(758.51,266.40) scale(0.2040,0.2300)" vector-effect="non-scaling-stroke"/><path d="M24.5 0C38 0 49 22 49 50C49 78 38 100 24.5 100C11 100 0 78 0 50C0 22 11 0 24.5 0Z" transform="translate(773.81,266.40) scale(0.2040,0.2300)" vector-effect="non-scaling-stroke"/><path d="M24.5 0C38 0 49 22 49 50C49 78 38 100 24.5 100C11 100 0 78 0 50C0 22 11 0 24.5 0Z" transform="translate(789.10,266.40) scale(0.2040,0.2300)" vector-effect="non-scaling-stroke"/><path d="M36 100L36 0L1 72L49 72" transform="translate(743.22,345.60) scale(0.2040,0.2300)" vector-effect="non-scaling-stroke"/><path d="M24.5 0C38 0 49 22 49 50C49 78 38 100 24.5 100C11 100 0 78 0 50C0 22 11 0 24.5 0Z" transform="translate(758.51,345.60) scale(0.2040,0.2300)" vector-effect="non-scaling-stroke"/><path d="M24.5 0C38 0 49 22 49 50C49 78 38 100 24.5 100C11 100 0 78 0 50C0 22 11 0 24.5 0Z" transform="translate(773.81,345.60) scale(0.2040,0.2300)" vector-effect="non-scaling-stroke"/><path d="M24.5 0C38 0 49 22 49 50C49 78 38 100 24.5 100C11 100 0 78 0 50C0 22 11 0 24.5 0Z" transform="translate(789.10,345.60) scale(0.2040,0.2300)" vector-effect="non-scaling-stroke"/><path d="M45 0L9 0L5 44C10 39 17 37 25 37C39 37 48 49 48 67C48 87 38 100 24 100C12 100 4 93 1 84" transform="translate(743.22,424.80) scale(0.2040,0.2300)" vector-effect="non-scaling-stroke"/><path d="M24.5 0C38 0 49 22 49 50C49 78 38 100 24.5 100C11 100 0 78 0 50C0 22 11 0 24.5 0Z" transform="translate(758.51,424.80) scale(0.2040,0.2300)" vector-effect="non-scaling-stroke"/><path d="M24.5 0C38 0 49 22 49 50C49 78 38 100 24.5 100C11 100 0 78 0 50C0 22 11 0 24.5 0Z" transform="translate(773.81,424.80) scale(0.2040,0.2300)" vector-effect="non-scaling-stroke"/><path d="M24.5 0C38 0 49 22 49 50C49 78 38 100 24.5 100C11 100 0 78 0 50C0 22 11 0 24.5 0Z" transform="translate(789.10,424.80) scale(0.2040,0.2300)" vector-effect="non-scaling-stroke"/><path d="M2 21C4 8 13 0 24.5 0C38 0 47 10 47 25C47 38 40 48 30 60L1 100L49 100" transform="translate(841.10,480.10) scale(0.2040,0.2280)" vector-effect="non-scaling-stroke"/><path d="M24.5 0C38 0 49 22 49 50C49 78 38 100 24.5 100C11 100 0 78 0 50C0 22 11 0 24.5 0Z" transform="translate(856.40,480.10) scale(0.2040,0.2280)" vector-effect="non-scaling-stroke"/><path d="M14.5 0C22.5 0 29 6.7 29 15C29 23.3 22.5 30 14.5 30C6.5 30 0 23.3 0 15C0 6.7 6.5 0 14.5 0Z" transform="translate(870.29,480.10) scale(0.2040,0.2280)" vector-effect="non-scaling-stroke"/><path d="M46 13C42 5 35 0 25 0C13 0 4 8 4 23C4 53 49 44 49 75C49 91 38 100 25 100C13 100 5 94 1 84" transform="translate(885.71,480.10) scale(0.2040,0.2280)" vector-effect="non-scaling-stroke"/><path d="M24.5 0C38 0 49 22 49 50C49 78 38 100 24.5 100C11 100 0 78 0 50C0 22 11 0 24.5 0Z" transform="translate(944.10,480.10) scale(0.2040,0.2280)" vector-effect="non-scaling-stroke"/><path d="M14.5 0C22.5 0 29 6.7 29 15C29 23.3 22.5 30 14.5 30C6.5 30 0 23.3 0 15C0 6.7 6.5 0 14.5 0Z" transform="translate(958.00,480.10) scale(0.2040,0.2280)" vector-effect="non-scaling-stroke"/><path d="M2 21C4 8 13 0 24.5 0C38 0 47 10 47 25C47 38 40 48 30 60L1 100L49 100" transform="translate(1016.10,480.10) scale(0.2040,0.2280)" vector-effect="non-scaling-stroke"/><path d="M24.5 0C38 0 49 22 49 50C49 78 38 100 24.5 100C11 100 0 78 0 50C0 22 11 0 24.5 0Z" transform="translate(1031.40,480.10) scale(0.2040,0.2280)" vector-effect="non-scaling-stroke"/><path d="M14.5 0C22.5 0 29 6.7 29 15C29 23.3 22.5 30 14.5 30C6.5 30 0 23.3 0 15C0 6.7 6.5 0 14.5 0Z" transform="translate(1045.29,480.10) scale(0.2040,0.2280)" vector-effect="non-scaling-stroke"/><path d="M1 100L1 0L51 100L51 0" transform="translate(1060.71,480.10) scale(0.2040,0.2280)" vector-effect="non-scaling-stroke"/><path d="M36 100L36 0L1 72L49 72" transform="translate(1103.80,480.10) scale(0.2040,0.2280)" vector-effect="non-scaling-stroke"/><path d="M24.5 0C38 0 49 22 49 50C49 78 38 100 24.5 100C11 100 0 78 0 50C0 22 11 0 24.5 0Z" transform="translate(1119.10,480.10) scale(0.2040,0.2280)" vector-effect="non-scaling-stroke"/><path d="M14.5 0C22.5 0 29 6.7 29 15C29 23.3 22.5 30 14.5 30C6.5 30 0 23.3 0 15C0 6.7 6.5 0 14.5 0Z" transform="translate(1132.99,480.10) scale(0.2040,0.2280)" vector-effect="non-scaling-stroke"/><path d="M1 100L1 0L51 100L51 0" transform="translate(1148.41,480.10) scale(0.2040,0.2280)" vector-effect="non-scaling-stroke"/><path d="M45 13C41 4 34 0 26 0C10 0 2 22 2 55C2 84 11 100 25 100C39 100 48 88 48 70C48 52 39 41 26 41C14 41 5 49 2 60" transform="translate(1192.80,480.10) scale(0.2040,0.2280)" vector-effect="non-scaling-stroke"/><path d="M24.5 0C38 0 49 22 49 50C49 78 38 100 24.5 100C11 100 0 78 0 50C0 22 11 0 24.5 0Z" transform="translate(1208.10,480.10) scale(0.2040,0.2280)" vector-effect="non-scaling-stroke"/><path d="M14.5 0C22.5 0 29 6.7 29 15C29 23.3 22.5 30 14.5 30C6.5 30 0 23.3 0 15C0 6.7 6.5 0 14.5 0Z" transform="translate(1221.99,480.10) scale(0.2040,0.2280)" vector-effect="non-scaling-stroke"/><path d="M1 100L1 0L51 100L51 0" transform="translate(1237.41,480.10) scale(0.2040,0.2280)" vector-effect="non-scaling-stroke"/><path d="M24.5 46C12 46 5 37 5 23C5 9 12 0 24.5 0C37 0 44 9 44 23C44 37 37 46 24.5 46C11 46 2 57 2 73C2 90 11 100 24.5 100C38 100 47 90 47 73C47 57 38 46 24.5 46Z" transform="translate(1280.20,480.10) scale(0.2040,0.2280)" vector-effect="non-scaling-stroke"/><path d="M24.5 0C38 0 49 22 49 50C49 78 38 100 24.5 100C11 100 0 78 0 50C0 22 11 0 24.5 0Z" transform="translate(1295.50,480.10) scale(0.2040,0.2280)" vector-effect="non-scaling-stroke"/><path d="M14.5 0C22.5 0 29 6.7 29 15C29 23.3 22.5 30 14.5 30C6.5 30 0 23.3 0 15C0 6.7 6.5 0 14.5 0Z" transform="translate(1309.39,480.10) scale(0.2040,0.2280)" vector-effect="non-scaling-stroke"/><path d="M1 100L1 0L51 100L51 0" transform="translate(1324.81,480.10) scale(0.2040,0.2280)" vector-effect="non-scaling-stroke"/></g>
<path d="M2 0L2 100L42 100C76 100 98 80 98 50C98 20 76 0 42 0Z" transform="translate(728.40,309.60) rotate(-90) scale(0.147) translate(0,-100)" fill="none" stroke="#111" stroke-width="2" stroke-linecap="round" stroke-linejoin="round" vector-effect="non-scaling-stroke"/>
<path d="M2 64L52 64C52 42 42 26 27 26C12 26 2 42 2 63C2 85 12 100 27 100C38 100 46 94 50 86" transform="translate(728.40,288.50) rotate(-90) scale(0.147) translate(0,-100)" fill="none" stroke="#111" stroke-width="2" stroke-linecap="round" stroke-linejoin="round" vector-effect="non-scaling-stroke"/>
<path d="M2 26L2 116M2 63C2 40 15 26 32 26C49 26 62 40 62 63C62 86 49 100 32 100C15 100 2 86 2 63" transform="translate(728.40,272.60) rotate(-90) scale(0.147) translate(0,-100)" fill="none" stroke="#111" stroke-width="2" stroke-linecap="round" stroke-linejoin="round" vector-effect="non-scaling-stroke"/>
<path d="M14 4L14 86C14 95 19 100 27 100L38 100M0 26L38 26" transform="translate(728.40,252.00) rotate(-90) scale(0.147) translate(0,-100)" fill="none" stroke="#111" stroke-width="2" stroke-linecap="round" stroke-linejoin="round" vector-effect="non-scaling-stroke"/>
<path d="M2 0L2 100M2 56C2 37 16 26 36 26C56 26 68 37 68 54L68 100" transform="translate(728.40,237.70) rotate(-90) scale(0.147) translate(0,-100)" fill="none" stroke="#111" stroke-width="2" stroke-linecap="round" stroke-linejoin="round" vector-effect="non-scaling-stroke"/>
<path d="M38 -12C6 14 6 96 38 122" transform="translate(728.40,206.60) rotate(-90) scale(0.147) translate(0,-100)" fill="none" stroke="#111" stroke-width="2" stroke-linecap="round" stroke-linejoin="round" vector-effect="non-scaling-stroke"/>
<path d="M2 26L2 100M2 56C2 37 15 26 38 26C61 26 75 37 75 56L75 100M75 56C75 37 89 26 112 26C135 26 148 37 148 56L148 100" transform="translate(728.40,192.90) rotate(-90) scale(0.147) translate(0,-100)" fill="none" stroke="#111" stroke-width="2" stroke-linecap="round" stroke-linejoin="round" vector-effect="non-scaling-stroke"/>
<path d="M2 -12C34 14 34 96 2 122" transform="translate(728.40,162.70) rotate(-90) scale(0.147) translate(0,-100)" fill="none" stroke="#111" stroke-width="2" stroke-linecap="round" stroke-linejoin="round" vector-effect="non-scaling-stroke"/>
<text x="842.2" y="422.4" style="font-family:'Liberation Serif',serif;font-size:43px" fill="#111" stroke="#111" stroke-width="0.5">(b)</text>
<g transform="translate(1519.7,41.6)">
<rect x="0" y="0" width="514.5" height="396.5" fill="#4264b2"/>
<path fill="#4a7cc0" fill-rule="evenodd" d="M375.8 77.8L376.8 78.8L378.2 85.8L378.2 120.8L377.2 128.8L373.2 134.2L369.8 126.2L369.2 96.2L374.2 79.8ZM0.2 0.2L0.2 396.2L514.2 396.2L514.2 0.2Z"/>
<path fill="#5a94d2" fill-rule="evenodd" d="M376.2 69.2L381.2 76.8L383.2 85.8L383.2 120.8L381.8 131.2L374.8 140.2L369.2 137.8L365.2 129.2L364.2 121.2L364.2 96.2L369.8 77.8ZM0.2 0.2L0.2 396.2L514.2 396.2L514.2 0.2Z"/>
<path fill="#68b4e4" fill-rule="evenodd" d="M325.2 150.2L328.2 152.2L329.8 155.8L329.8 161.2L328.8 163.8L326.2 166.2L324.2 166.2L321.8 163.8L320.8 160.8L321.2 154.2L322.2 152.2ZM378.2 65.8L384.8 74.8L386.8 83.8L386.8 122.8L385.2 133.2L378.2 142.8L377.8 149.8L374.8 161.8L369.8 168.8L365.2 161.2L363.8 148.8L357.8 123.2L360.8 106.2L360.8 94.2L366.2 75.8L374.2 65.8ZM0.2 0.2L0.2 396.2L514.2 396.2L514.2 0.2Z"/>
<path fill="#70ccf2" fill-rule="evenodd" d="M125.8 162.8L126.8 162.8L129.2 166.2L128.8 171.8L126.8 174.2L124.8 173.2L123.8 170.8L123.8 165.2ZM330.8 118.8L333.2 119.8L337.8 151.2L341.8 162.2L338.2 172.8L329.8 188.8L327.2 189.8L308.8 176.8L292.8 173.2L288.8 170.8L281.8 163.8L273.2 157.8L273.8 144.2L285.2 135.2L296.2 131.2L303.2 135.2L311.8 135.2L321.8 127.8L328.8 119.8ZM375.2 58.8L378.2 63.2L381.8 66.2L387.2 75.8L388.8 83.2L388.8 123.2L387.2 133.8L385.2 136.8L384.2 149.8L380.8 163.8L374.8 173.8L373.2 175.2L370.2 175.8L365.8 173.8L363.8 171.8L359.2 163.8L357.2 147.8L351.2 124.2L353.8 106.8L359.8 88.8L362.8 76.2L369.2 63.2ZM0.2 0.2L0.2 396.2L514.2 396.2L514.2 0.2Z"/>
<path fill="#90dcf4" fill-rule="evenodd" d="M125.8 156.8L128.2 157.2L130.8 159.8L132.8 166.8L131.2 176.8L127.2 182.2L125.8 182.2L123.2 180.2L120.2 170.2L120.2 164.8L122.2 159.2ZM339.8 107.2L344.2 123.8L346.2 149.2L352.2 161.2L346.8 176.8L333.8 201.2L321.8 197.8L304.8 185.8L286.8 180.2L272.2 168.8L263.2 163.8L264.2 138.8L279.2 127.2L297.2 120.2L307.8 126.2L315.8 120.2L324.8 109.2L330.2 107.2L335.8 110.2ZM375.2 50.8L382.2 56.8L388.8 71.2L392.2 91.8L392.2 129.2L390.2 150.8L386.2 166.8L377.8 180.2L369.2 182.2L360.8 178.2L353.8 166.8L351.2 148.8L345.2 123.2L348.2 103.2L354.2 85.8L357.2 73.2L364.2 59.2ZM0.2 0.2L0.2 396.2L514.2 396.2L514.2 0.2Z"/>
<path fill="#b0e0f2" fill-rule="evenodd" d="M125.8 150.8L131.2 152.8L133.8 155.8L135.8 160.8L135.8 171.2L134.2 178.8L130.8 186.2L127.2 188.8L123.8 187.8L120.8 184.2L117.2 171.2L117.8 158.8L120.8 153.8ZM389.8 56.2L394.8 66.2L399.2 91.2L399.2 129.8L397.2 151.2L393.2 168.2L384.2 183.8L380.8 186.8L371.2 189.2L366.2 188.8L356.2 183.8L353.2 179.8L340.2 204.8L336.8 207.8L332.8 208.2L320.8 205.2L304.8 194.2L285.2 196.2L258.2 197.2L247.2 193.2L239.8 187.8L233.8 184.8L217.8 180.8L209.8 177.2L202.2 171.8L197.8 166.2L194.2 158.8L196.2 150.2L199.8 143.8L206.2 137.2L210.8 134.2L222.2 128.8L229.8 126.2L244.8 117.8L261.8 114.8L282.8 113.2L305.2 109.8L315.8 109.2L320.2 103.8L326.2 100.8L330.8 100.2L334.8 101.8L339.2 100.2L341.8 100.8L347.8 82.8L350.8 70.2L357.8 56.2L361.2 52.2L372.8 44.2L376.8 44.2L384.2 49.8ZM0.2 0.2L0.2 396.2L514.2 396.2L514.2 0.2Z"/>
<path fill="#c8e8f6" fill-rule="evenodd" d="M0.2 0.2L0.2 115.2L15.8 114.2L27.2 117.8L34.2 121.8L43.8 123.8L76.2 125.2L102.8 125.2L145.8 118.8L170.8 113.2L181.8 109.8L237.2 102.8L315.8 97.2L322.8 94.2L328.2 93.2L335.8 94.2L341.2 79.2L344.2 66.8L351.2 52.8L356.8 46.8L369.2 37.8L375.8 37.2L380.2 39.2L393.8 50.2L396.8 54.2L401.2 63.2L406.2 90.8L406.2 130.2L404.8 147.8L401.2 165.8L398.2 175.2L389.8 188.2L383.2 193.8L368.2 196.2L362.8 195.2L355.2 191.8L345.8 209.2L340.2 214.2L334.8 215.2L326.2 213.8L270.8 214.8L255.8 214.2L233.2 209.2L193.2 194.8L180.8 188.8L155.8 184.2L145.8 180.8L142.2 181.2L131.8 193.8L128.2 195.8L124.8 195.8L119.8 191.8L116.8 187.2L110.2 171.8L107.8 169.2L102.2 167.2L40.2 163.8L33.8 162.2L9.8 163.2L0.2 161.8L0.2 396.2L514.2 396.2L514.2 0.2Z"/>
<path fill="#dcf2ee" fill-rule="evenodd" d="M0.2 0.2L0.2 103.2L45.2 100.2L101.8 104.2L180.2 95.2L260.8 90.8L326.8 83.8L331.8 84.2L334.8 76.2L337.8 63.8L345.8 48.2L350.8 42.2L365.8 31.2L375.2 30.2L377.2 31.2L388.8 41.2L399.8 46.8L402.8 50.2L407.8 59.8L413.2 89.8L413.2 128.2L410.8 128.8L409.8 160.2L404.8 178.2L394.2 194.2L386.2 200.2L372.8 203.2L367.2 203.2L358.2 201.2L354.2 209.8L345.2 220.8L337.8 227.2L330.8 230.2L296.2 233.2L274.8 236.8L256.8 237.8L235.2 233.8L180.2 216.8L143.2 207.8L134.2 207.2L125.8 208.2L112.8 201.2L104.8 199.2L27.8 192.2L0.2 191.2L0.2 396.2L514.2 396.2L514.2 0.2Z"/>
<path fill="#f4f4d8" fill-rule="evenodd" d="M268.2 301.8L269.8 301.8L269.8 303.2L268.2 303.2ZM366.8 258.8L358.8 288.2L358.8 355.8L373.8 355.8L373.8 297.8ZM351.2 247.2L341.8 237.2L334.8 254.2L322.2 272.8L290.2 258.2L267.2 263.2L267.2 295.8L268.8 301.8L267.8 302.2L260.2 298.2L249.2 289.2L232.8 353.2L231.8 354.2L217.8 354.2L208.8 338.8L200.8 312.8L192.2 307.2L184.8 348.8L183.8 349.8L177.8 341.8L171.8 349.2L167.2 346.2L159.2 313.2L150.2 307.2L133.8 314.8L129.8 321.2L123.2 300.8L115.8 302.2L112.8 339.2L104.8 339.8L103.8 323.2L103.2 274.8L82.2 257.2L68.8 239.2L57.2 276.8L68.8 287.8L83.8 291.8L93.8 301.8L95.8 315.2L93.8 345.8L83.8 354.2L28.8 353.8L20.8 288.8L13.8 295.8L0.2 288.8L0.2 355.8L300.8 355.8L292.8 348.8L282.8 306.8L288.2 305.2L290.2 306.2L302.8 340.8L311.8 326.2L320.8 304.8L323.2 301.2L341.8 295.2L351.2 308.2ZM20.8 228.8L0.2 228.8L0.2 273.2L14.2 258.2L28.8 238.8L22.8 237.2L21.8 236.2ZM420.2 128.8L513.8 128.2L514.2 173.2L505.8 173.8L506.2 198.8L505.8 199.2L504.8 197.2L500.8 175.2L497.2 183.2L490.8 209.2L483.2 189.2L480.8 156.8L475.8 135.2L466.2 158.2L458.8 209.2L452.2 194.2L445.8 165.2L432.8 211.2L424.8 187.2L420.2 160.2ZM0.2 12.2L0.2 90.2L39.2 87.8L100.8 88.2L116.2 85.8L140.2 83.8L181.8 82.2L283.2 74.2L328.2 72.2L331.2 60.2L338.2 46.2L343.2 39.8L362.2 24.8L370.8 23.2L375.8 23.2L378.2 24.8L391.2 39.2L400.8 39.8L405.8 42.2L408.8 45.8L414.2 56.2L420.8 91.8L420.8 128.2L410.8 128.8L408.8 185.8L404.2 192.8L400.8 257.8L395.8 305.8L390.2 322.2L383.8 353.8L383.8 396.2L514.2 396.2L514.2 76.2L506.2 78.2L500.2 83.8L492.2 87.2L478.8 89.8L474.8 89.2L471.2 79.2L471.2 20.8L469.8 7.8L215.8 7.8L214.8 8.8L183.2 11.2L148.8 9.8L140.2 8.8L139.2 7.8L72.2 7.8L70.2 10.8L45.8 12.2Z"/>
<path fill="#fbf2b8" fill-rule="evenodd" d="M505.8 173.8L506.8 248.8L513.8 248.8L513.8 173.8ZM465.2 23.8L440.2 18.8L430.8 12.2L418.8 7.8L382.8 7.8L371.8 13.8L361.8 16.8L341.2 15.8L304.2 15.8L259.2 16.8L187.8 21.2L36.2 21.2L0.2 22.8L0.2 72.2L25.8 70.2L39.8 65.2L107.2 66.2L167.8 64.8L266.8 59.2L325.2 56.8L331.8 43.2L340.2 32.2L359.2 18.2L376.2 15.8L382.2 20.2L388.8 31.2L390.8 36.8L392.2 36.8L393.8 34.8L404.2 32.8L409.2 37.8L414.2 40.8L420.8 53.2L427.2 88.2L465.2 88.2Z"/>
<path fill="#fcf0a0" fill-rule="evenodd" d="M0.2 33.8L0.2 57.8L15.2 53.2L29.2 46.2L28.2 44.2L20.2 39.2L10.2 35.8ZM334.8 27.2L330.8 25.2L290.2 28.2L288.8 28.8L284.2 33.8L281.2 35.2L270.8 37.8L261.8 38.2L304.2 39.8L324.2 42.2L325.2 39.8ZM386.8 13.8L389.8 21.2L390.2 33.2L391.2 34.8L392.2 34.2L393.2 29.8L397.8 27.8L402.2 23.8L404.2 23.8L410.2 32.2L411.8 32.8L414.8 31.2L415.2 21.2L414.2 17.8L412.2 15.8L409.8 14.8L405.2 15.2L396.2 11.8L390.2 12.2Z"/>
<path fill="#fce08a" fill-rule="evenodd" d="M391.2 29.8L392.2 29.8L392.2 32.8L391.2 32.8Z"/>
<g mask="url(#m2)"><path fill="none" stroke="#111" stroke-width="2.5" stroke-linejoin="round" d=""/><path fill="none" stroke="#111" stroke-width="2.5" stroke-linejoin="round" stroke-dasharray="7 5" d="M371.0 181.8L377.8 180.0L386.0 166.8L390.0 150.8L392.0 129.2L392.0 91.8L388.5 71.2L382.0 56.8L375.2 51.0L364.5 59.2L357.5 73.2L354.5 85.8L348.5 103.2L345.5 123.2L351.5 148.8L354.0 166.8L360.8 178.0L369.2 182.0ZM334.0 200.8L346.5 176.8L352.0 161.2L346.0 149.2L344.0 123.8L339.8 107.5L335.8 110.5L330.2 107.5L324.8 109.5L317.5 118.8L307.8 126.5L297.8 120.5L281.8 126.0L264.5 138.8L263.5 163.8L272.2 168.5L286.8 180.0L304.8 185.5L321.8 197.5ZM127.5 181.8L130.9 176.2L132.2 166.2L130.2 159.5L128.5 157.8L126.2 157.1L123.8 158.1L122.1 160.2L120.6 168.2L123.1 179.2L125.2 181.7Z"/><path fill="none" stroke="#111" stroke-width="2.5" stroke-linejoin="round" stroke-dasharray="7 5" d="M375.5 139.8L381.5 131.2L383.0 120.8L383.0 85.8L381.0 76.8L376.2 69.5L370.0 77.8L364.5 96.2L364.5 121.2L365.5 129.2L369.5 137.8Z"/></g>
<polygon points="0.0,396.2 0.0,356.5 351.8,356.5 351.8,317.5 357.9,317.5 357.9,278.5 385.6,278.5 385.6,239.5 401.6,239.5 401.6,200.8 416.1,200.8 416.1,239.5 426.0,239.5 426.0,278.5 431.2,278.5 431.2,239.5 445.4,239.5 445.4,200.8 454.4,200.8 454.4,239.5 468.3,239.5 468.3,200.8 492.9,200.8 492.9,278.5 503.7,278.5 503.7,317.5 514.5,317.5 514.5,396.2" fill="#7f807f"/>
<rect x="0" y="0" width="4" height="396" fill="#7f807f"/>
<path d="M4 376.3H514 M352.5 337H514 M354.8 337V376.3" stroke="#9a9a9a" stroke-width="1" fill="none"/>
</g>
<rect x="1519.7" y="41.6" width="514.0" height="396.2" fill="none" stroke="#222" stroke-width="1.6"/>
<path d="M1558.2 19.6V41.6M1558.2 437.8V460.3M1602.2 19.6V41.6M1602.2 437.8V460.3M1646.2 19.6V41.6M1646.2 437.8V460.3M1690.2 19.6V41.6M1690.2 437.8V460.3M1734.2 19.6V41.6M1734.2 437.8V460.3M1778.2 19.6V41.6M1778.2 437.8V460.3M1822.2 19.6V41.6M1822.2 437.8V460.3M1866.2 19.6V41.6M1866.2 437.8V460.3M1910.2 19.6V41.6M1910.2 437.8V460.3M1954.2 19.6V41.6M1954.2 437.8V460.3M1998.2 19.6V41.6M1998.2 437.8V460.3M1505.2 41.6H1519.7M2033.7 41.6H2048.5M1505.2 81.2H1519.7M2033.7 81.2H2048.5M1505.2 120.8H1519.7M2033.7 120.8H2048.5M1505.2 160.5H1519.7M2033.7 160.5H2048.5M1505.2 200.1H1519.7M2033.7 200.1H2048.5M1505.2 239.7H1519.7M2033.7 239.7H2048.5M1505.2 279.3H1519.7M2033.7 279.3H2048.5M1505.2 318.9H1519.7M2033.7 318.9H2048.5M1505.2 358.6H1519.7M2033.7 358.6H2048.5M1505.2 398.2H1519.7M2033.7 398.2H2048.5M1505.2 437.8H1519.7M2033.7 437.8H2048.5" stroke="#111" stroke-width="2" fill="none"/>
<g fill="none" stroke="#111" stroke-width="2.0" stroke-linecap="round" stroke-linejoin="round" vector-effect="non-scaling-stroke" style="vector-effect:non-scaling-stroke"><path d="M24.5 0C38 0 49 22 49 50C49 78 38 100 24.5 100C11 100 0 78 0 50C0 22 11 0 24.5 0Z" transform="translate(1481.00,30.10) scale(0.2040,0.2300)" vector-effect="non-scaling-stroke"/><path d="M13 24L36 0L36 100" transform="translate(1435.12,109.34) scale(0.2040,0.2300)" vector-effect="non-scaling-stroke"/><path d="M24.5 0C38 0 49 22 49 50C49 78 38 100 24.5 100C11 100 0 78 0 50C0 22 11 0 24.5 0Z" transform="translate(1450.41,109.34) scale(0.2040,0.2300)" vector-effect="non-scaling-stroke"/><path d="M24.5 0C38 0 49 22 49 50C49 78 38 100 24.5 100C11 100 0 78 0 50C0 22 11 0 24.5 0Z" transform="translate(1465.71,109.34) scale(0.2040,0.2300)" vector-effect="non-scaling-stroke"/><path d="M24.5 0C38 0 49 22 49 50C49 78 38 100 24.5 100C11 100 0 78 0 50C0 22 11 0 24.5 0Z" transform="translate(1481.00,109.34) scale(0.2040,0.2300)" vector-effect="non-scaling-stroke"/><path d="M2 21C4 8 13 0 24.5 0C38 0 47 10 47 25C47 38 40 48 30 60L1 100L49 100" transform="translate(1435.12,188.58) scale(0.2040,0.2300)" vector-effect="non-scaling-stroke"/><path d="M24.5 0C38 0 49 22 49 50C49 78 38 100 24.5 100C11 100 0 78 0 50C0 22 11 0 24.5 0Z" transform="translate(1450.41,188.58) scale(0.2040,0.2300)" vector-effect="non-scaling-stroke"/><path d="M24.5 0C38 0 49 22 49 50C49 78 38 100 24.5 100C11 100 0 78 0 50C0 22 11 0 24.5 0Z" transform="translate(1465.71,188.58) scale(0.2040,0.2300)" vector-effect="non-scaling-stroke"/><path d="M24.5 0C38 0 49 22 49 50C49 78 38 100 24.5 100C11 100 0 78 0 50C0 22 11 0 24.5 0Z" transform="translate(1481.00,188.58) scale(0.2040,0.2300)" vector-effect="non-scaling-stroke"/><path d="M3 14C7 5 15 0 24.5 0C37 0 46 9 46 24C46 38 37 46 22 46C39 46 48 57 48 73C48 89 38 100 24 100C12 100 4 93 1 83" transform="translate(1435.12,267.82) scale(0.2040,0.2300)" vector-effect="non-scaling-stroke"/><path d="M24.5 0C38 0 49 22 49 50C49 78 38 100 24.5 100C11 100 0 78 0 50C0 22 11 0 24.5 0Z" transform="translate(1450.41,267.82) scale(0.2040,0.2300)" vector-effect="non-scaling-stroke"/><path d="M24.5 0C38 0 49 22 49 50C49 78 38 100 24.5 100C11 100 0 78 0 50C0 22 11 0 24.5 0Z" transform="translate(1465.71,267.82) scale(0.2040,0.2300)" vector-effect="non-scaling-stroke"/><path d="M24.5 0C38 0 49 22 49 50C49 78 38 100 24.5 100C11 100 0 78 0 50C0 22 11 0 24.5 0Z" transform="translate(1481.00,267.82) scale(0.2040,0.2300)" vector-effect="non-scaling-stroke"/><path d="M36 100L36 0L1 72L49 72" transform="translate(1435.12,347.06) scale(0.2040,0.2300)" vector-effect="non-scaling-stroke"/><path d="M24.5 0C38 0 49 22 49 50C49 78 38 100 24.5 100C11 100 0 78 0 50C0 22 11 0 24.5 0Z" transform="translate(1450.41,347.06) scale(0.2040,0.2300)" vector-effect="non-scaling-stroke"/><path d="M24.5 0C38 0 49 22 49 50C49 78 38 100 24.5 100C11 100 0 78 0 50C0 22 11 0 24.5 0Z" transform="translate(1465.71,347.06) scale(0.2040,0.2300)" vector-effect="non-scaling-stroke"/><path d="M24.5 0C38 0 49 22 49 50C49 78 38 100 24.5 100C11 100 0 78 0 50C0 22 11 0 24.5 0Z" transform="translate(1481.00,347.06) scale(0.2040,0.2300)" vector-effect="non-scaling-stroke"/><path d="M45 0L9 0L5 44C10 39 17 37 25 37C39 37 48 49 48 67C48 87 38 100 24 100C12 100 4 93 1 84" transform="translate(1435.12,426.30) scale(0.2040,0.2300)" vector-effect="non-scaling-stroke"/><path d="M24.5 0C38 0 49 22 49 50C49 78 38 100 24.5 100C11 100 0 78 0 50C0 22 11 0 24.5 0Z" transform="translate(1450.41,426.30) scale(0.2040,0.2300)" vector-effect="non-scaling-stroke"/><path d="M24.5 0C38 0 49 22 49 50C49 78 38 100 24.5 100C11 100 0 78 0 50C0 22 11 0 24.5 0Z" transform="translate(1465.71,426.30) scale(0.2040,0.2300)" vector-effect="non-scaling-stroke"/><path d="M24.5 0C38 0 49 22 49 50C49 78 38 100 24.5 100C11 100 0 78 0 50C0 22 11 0 24.5 0Z" transform="translate(1481.00,426.30) scale(0.2040,0.2300)" vector-effect="non-scaling-stroke"/><path d="M2 21C4 8 13 0 24.5 0C38 0 47 10 47 25C47 38 40 48 30 60L1 100L49 100" transform="translate(1533.00,481.60) scale(0.2040,0.2280)" vector-effect="non-scaling-stroke"/><path d="M24.5 0C38 0 49 22 49 50C49 78 38 100 24.5 100C11 100 0 78 0 50C0 22 11 0 24.5 0Z" transform="translate(1548.30,481.60) scale(0.2040,0.2280)" vector-effect="non-scaling-stroke"/><path d="M14.5 0C22.5 0 29 6.7 29 15C29 23.3 22.5 30 14.5 30C6.5 30 0 23.3 0 15C0 6.7 6.5 0 14.5 0Z" transform="translate(1562.19,481.60) scale(0.2040,0.2280)" vector-effect="non-scaling-stroke"/><path d="M46 13C42 5 35 0 25 0C13 0 4 8 4 23C4 53 49 44 49 75C49 91 38 100 25 100C13 100 5 94 1 84" transform="translate(1577.61,481.60) scale(0.2040,0.2280)" vector-effect="non-scaling-stroke"/><path d="M24.5 0C38 0 49 22 49 50C49 78 38 100 24.5 100C11 100 0 78 0 50C0 22 11 0 24.5 0Z" transform="translate(1636.00,481.60) scale(0.2040,0.2280)" vector-effect="non-scaling-stroke"/><path d="M14.5 0C22.5 0 29 6.7 29 15C29 23.3 22.5 30 14.5 30C6.5 30 0 23.3 0 15C0 6.7 6.5 0 14.5 0Z" transform="translate(1649.90,481.60) scale(0.2040,0.2280)" vector-effect="non-scaling-stroke"/><path d="M2 21C4 8 13 0 24.5 0C38 0 47 10 47 25C47 38 40 48 30 60L1 100L49 100" transform="translate(1708.00,481.60) scale(0.2040,0.2280)" vector-effect="non-scaling-stroke"/><path d="M24.5 0C38 0 49 22 49 50C49 78 38 100 24.5 100C11 100 0 78 0 50C0 22 11 0 24.5 0Z" transform="translate(1723.30,481.60) scale(0.2040,0.2280)" vector-effect="non-scaling-stroke"/><path d="M14.5 0C22.5 0 29 6.7 29 15C29 23.3 22.5 30 14.5 30C6.5 30 0 23.3 0 15C0 6.7 6.5 0 14.5 0Z" transform="translate(1737.19,481.60) scale(0.2040,0.2280)" vector-effect="non-scaling-stroke"/><path d="M1 100L1 0L51 100L51 0" transform="translate(1752.61,481.60) scale(0.2040,0.2280)" vector-effect="non-scaling-stroke"/><path d="M36 100L36 0L1 72L49 72" transform="translate(1795.70,481.60) scale(0.2040,0.2280)" vector-effect="non-scaling-stroke"/><path d="M24.5 0C38 0 49 22 49 50C49 78 38 100 24.5 100C11 100 0 78 0 50C0 22 11 0 24.5 0Z" transform="translate(1811.00,481.60) scale(0.2040,0.2280)" vector-effect="non-scaling-stroke"/><path d="M14.5 0C22.5 0 29 6.7 29 15C29 23.3 22.5 30 14.5 30C6.5 30 0 23.3 0 15C0 6.7 6.5 0 14.5 0Z" transform="translate(1824.89,481.60) scale(0.2040,0.2280)" vector-effect="non-scaling-stroke"/><path d="M1 100L1 0L51 100L51 0" transform="translate(1840.31,481.60) scale(0.2040,0.2280)" vector-effect="non-scaling-stroke"/><path d="M45 13C41 4 34 0 26 0C10 0 2 22 2 55C2 84 11 100 25 100C39 100 48 88 48 70C48 52 39 41 26 41C14 41 5 49 2 60" transform="translate(1884.70,481.60) scale(0.2040,0.2280)" vector-effect="non-scaling-stroke"/><path d="M24.5 0C38 0 49 22 49 50C49 78 38 100 24.5 100C11 100 0 78 0 50C0 22 11 0 24.5 0Z" transform="translate(1900.00,481.60) scale(0.2040,0.2280)" vector-effect="non-scaling-stroke"/><path d="M14.5 0C22.5 0 29 6.7 29 15C29 23.3 22.5 30 14.5 30C6.5 30 0 23.3 0 15C0 6.7 6.5 0 14.5 0Z" transform="translate(1913.89,481.60) scale(0.2040,0.2280)" vector-effect="non-scaling-stroke"/><path d="M1 100L1 0L51 100L51 0" transform="translate(1929.31,481.60) scale(0.2040,0.2280)" vector-effect="non-scaling-stroke"/><path d="M24.5 46C12 46 5 37 5 23C5 9 12 0 24.5 0C37 0 44 9 44 23C44 37 37 46 24.5 46C11 46 2 57 2 73C2 90 11 100 24.5 100C38 100 47 90 47 73C47 57 38 46 24.5 46Z" transform="translate(1972.10,481.60) scale(0.2040,0.2280)" vector-effect="non-scaling-stroke"/><path d="M24.5 0C38 0 49 22 49 50C49 78 38 100 24.5 100C11 100 0 78 0 50C0 22 11 0 24.5 0Z" transform="translate(1987.40,481.60) scale(0.2040,0.2280)" vector-effect="non-scaling-stroke"/><path d="M14.5 0C22.5 0 29 6.7 29 15C29 23.3 22.5 30 14.5 30C6.5 30 0 23.3 0 15C0 6.7 6.5 0 14.5 0Z" transform="translate(2001.29,481.60) scale(0.2040,0.2280)" vector-effect="non-scaling-stroke"/><path d="M1 100L1 0L51 100L51 0" transform="translate(2016.71,481.60) scale(0.2040,0.2280)" vector-effect="non-scaling-stroke"/></g>
<path d="M2 0L2 100L42 100C76 100 98 80 98 50C98 20 76 0 42 0Z" transform="translate(1420.30,310.90) rotate(-90) scale(0.147) translate(0,-100)" fill="none" stroke="#111" stroke-width="2" stroke-linecap="round" stroke-linejoin="round" vector-effect="non-scaling-stroke"/>
<path d="M2 64L52 64C52 42 42 26 27 26C12 26 2 42 2 63C2 85 12 100 27 100C38 100 46 94 50 86" transform="translate(1420.30,289.80) rotate(-90) scale(0.147) translate(0,-100)" fill="none" stroke="#111" stroke-width="2" stroke-linecap="round" stroke-linejoin="round" vector-effect="non-scaling-stroke"/>
<path d="M2 26L2 116M2 63C2 40 15 26 32 26C49 26 62 40 62 63C62 86 49 100 32 100C15 100 2 86 2 63" transform="translate(1420.30,273.90) rotate(-90) scale(0.147) translate(0,-100)" fill="none" stroke="#111" stroke-width="2" stroke-linecap="round" stroke-linejoin="round" vector-effect="non-scaling-stroke"/>
<path d="M14 4L14 86C14 95 19 100 27 100L38 100M0 26L38 26" transform="translate(1420.30,253.30) rotate(-90) scale(0.147) translate(0,-100)" fill="none" stroke="#111" stroke-width="2" stroke-linecap="round" stroke-linejoin="round" vector-effect="non-scaling-stroke"/>
<path d="M2 0L2 100M2 56C2 37 16 26 36 26C56 26 68 37 68 54L68 100" transform="translate(1420.30,239.00) rotate(-90) scale(0.147) translate(0,-100)" fill="none" stroke="#111" stroke-width="2" stroke-linecap="round" stroke-linejoin="round" vector-effect="non-scaling-stroke"/>
<path d="M38 -12C6 14 6 96 38 122" transform="translate(1420.30,207.90) rotate(-90) scale(0.147) translate(0,-100)" fill="none" stroke="#111" stroke-width="2" stroke-linecap="round" stroke-linejoin="round" vector-effect="non-scaling-stroke"/>
<path d="M2 26L2 100M2 56C2 37 15 26 38 26C61 26 75 37 75 56L75 100M75 56C75 37 89 26 112 26C135 26 148 37 148 56L148 100" transform="translate(1420.30,194.20) rotate(-90) scale(0.147) translate(0,-100)" fill="none" stroke="#111" stroke-width="2" stroke-linecap="round" stroke-linejoin="round" vector-effect="non-scaling-stroke"/>
<path d="M2 -12C34 14 34 96 2 122" transform="translate(1420.30,164.00) rotate(-90) scale(0.147) translate(0,-100)" fill="none" stroke="#111" stroke-width="2" stroke-linecap="round" stroke-linejoin="round" vector-effect="non-scaling-stroke"/>
<text x="1533.3" y="421.8" style="font-family:'Liberation Serif',serif;font-size:43px" fill="#111" stroke="#111" stroke-width="0.5">(c)</text>
<g fill="none" stroke="#111" stroke-width="2.0" stroke-linecap="round" stroke-linejoin="round" vector-effect="non-scaling-stroke" style="vector-effect:non-scaling-stroke"><path d="M36 100L36 0L1 72L49 72" transform="translate(1098.30,58.30) scale(0.1220,0.1300)" vector-effect="non-scaling-stroke"/><path d="M1 97a2 2 0 1 0 4 0a2 2 0 1 0 -4 0Z" transform="translate(1106.58,58.30) scale(0.1220,0.1300)" vector-effect="non-scaling-stroke"/><path d="M24.5 0C38 0 49 22 49 50C49 78 38 100 24.5 100C11 100 0 78 0 50C0 22 11 0 24.5 0Z" transform="translate(1109.91,58.30) scale(0.1220,0.1300)" vector-effect="non-scaling-stroke"/></g>
<g transform="translate(1240.6,96.0) rotate(-78)"><g fill="none" stroke="#111" stroke-width="2.0" stroke-linecap="round" stroke-linejoin="round" vector-effect="non-scaling-stroke" style="vector-effect:non-scaling-stroke"><path d="M2 21C4 8 13 0 24.5 0C38 0 47 10 47 25C47 38 40 48 30 60L1 100L49 100" transform="translate(-11.29,-7.00) scale(0.1700,0.1250)" vector-effect="non-scaling-stroke"/><path d="M1 97a2 2 0 1 0 4 0a2 2 0 1 0 -4 0Z" transform="translate(-0.66,-7.00) scale(0.1700,0.1250)" vector-effect="non-scaling-stroke"/><path d="M24.5 0C38 0 49 22 49 50C49 78 38 100 24.5 100C11 100 0 78 0 50C0 22 11 0 24.5 0Z" transform="translate(2.96,-7.00) scale(0.1700,0.1250)" vector-effect="non-scaling-stroke"/></g></g>
<g transform="translate(1878.7,116.5) rotate(-77.5)"><g fill="none" stroke="#111" stroke-width="2.0" stroke-linecap="round" stroke-linejoin="round" vector-effect="non-scaling-stroke" style="vector-effect:non-scaling-stroke"><path d="M2 21C4 8 13 0 24.5 0C38 0 47 10 47 25C47 38 40 48 30 60L1 100L49 100" transform="translate(-11.29,-7.00) scale(0.1700,0.1250)" vector-effect="non-scaling-stroke"/><path d="M1 97a2 2 0 1 0 4 0a2 2 0 1 0 -4 0Z" transform="translate(-0.66,-7.00) scale(0.1700,0.1250)" vector-effect="non-scaling-stroke"/><path d="M24.5 0C38 0 49 22 49 50C49 78 38 100 24.5 100C11 100 0 78 0 50C0 22 11 0 24.5 0Z" transform="translate(2.96,-7.00) scale(0.1700,0.1250)" vector-effect="non-scaling-stroke"/></g></g>
<rect x="64.50" y="551.2" width="22.03" height="22.59999999999991" fill="#9652a0"/>
<rect x="86.23" y="551.2" width="22.03" height="22.59999999999991" fill="#8a50aa"/>
<rect x="107.95" y="551.2" width="22.03" height="22.59999999999991" fill="#7a50aa"/>
<rect x="129.68" y="551.2" width="22.03" height="22.59999999999991" fill="#6a52aa"/>
<rect x="151.41" y="551.2" width="22.03" height="22.59999999999991" fill="#5e52aa"/>
<rect x="173.13" y="551.2" width="22.03" height="22.59999999999991" fill="#5058aa"/>
<rect x="194.86" y="551.2" width="22.03" height="22.59999999999991" fill="#2a64b4"/>
<rect x="216.59" y="551.2" width="22.03" height="22.59999999999991" fill="#2478a0"/>
<rect x="238.31" y="551.2" width="22.03" height="22.59999999999991" fill="#1e8078"/>
<rect x="260.04" y="551.2" width="22.03" height="22.59999999999991" fill="#16965a"/>
<rect x="281.77" y="551.2" width="22.03" height="22.59999999999991" fill="#1ea048"/>
<rect x="303.49" y="551.2" width="22.03" height="22.59999999999991" fill="#2eb04a"/>
<rect x="325.22" y="551.2" width="22.03" height="22.59999999999991" fill="#3cb44a"/>
<rect x="346.95" y="551.2" width="22.03" height="22.59999999999991" fill="#50b848"/>
<rect x="368.67" y="551.2" width="22.03" height="22.59999999999991" fill="#70bc40"/>
<rect x="390.40" y="551.2" width="22.03" height="22.59999999999991" fill="#88c038"/>
<rect x="412.13" y="551.2" width="22.03" height="22.59999999999991" fill="#a8cc30"/>
<rect x="433.85" y="551.2" width="22.03" height="22.59999999999991" fill="#c6d82a"/>
<rect x="455.58" y="551.2" width="22.03" height="22.59999999999991" fill="#dce21e"/>
<rect x="477.31" y="551.2" width="22.03" height="22.59999999999991" fill="#ece816"/>
<rect x="499.03" y="551.2" width="22.03" height="22.59999999999991" fill="#f8e810"/>
<rect x="520.76" y="551.2" width="22.03" height="22.59999999999991" fill="#fbbb16"/>
<rect x="542.49" y="551.2" width="22.03" height="22.59999999999991" fill="#f8961c"/>
<rect x="564.21" y="551.2" width="22.03" height="22.59999999999991" fill="#f47828"/>
<rect x="585.94" y="551.2" width="22.03" height="22.59999999999991" fill="#f05a24"/>
<rect x="607.67" y="551.2" width="22.03" height="22.59999999999991" fill="#e8321f"/>
<rect x="629.39" y="551.2" width="22.03" height="22.59999999999991" fill="#e82a20"/>
<rect x="651.12" y="551.2" width="22.03" height="22.59999999999991" fill="#e02820"/>
<rect x="672.85" y="551.2" width="22.03" height="22.59999999999991" fill="#b82020"/>
<rect x="694.57" y="551.2" width="22.03" height="22.59999999999991" fill="#981c18"/>
<path d="M86.23 551.2V573.8M107.95 551.2V573.8M129.68 551.2V573.8M151.41 551.2V573.8M173.13 551.2V573.8M194.86 551.2V573.8M216.59 551.2V573.8M238.31 551.2V573.8M260.04 551.2V573.8M281.77 551.2V573.8M303.49 551.2V573.8M325.22 551.2V573.8M346.95 551.2V573.8M368.67 551.2V573.8M390.40 551.2V573.8M412.13 551.2V573.8M433.85 551.2V573.8M455.58 551.2V573.8M477.31 551.2V573.8M499.03 551.2V573.8M520.76 551.2V573.8M542.49 551.2V573.8M564.21 551.2V573.8M585.94 551.2V573.8M607.67 551.2V573.8M629.39 551.2V573.8M651.12 551.2V573.8M672.85 551.2V573.8M694.57 551.2V573.8" stroke="#222" stroke-width="1.5"/>
<rect x="64.5" y="551.2" width="651.8" height="22.59999999999991" fill="none" stroke="#222" stroke-width="1.6"/>
<g fill="none" stroke="#111" stroke-width="2.0" stroke-linecap="round" stroke-linejoin="round" vector-effect="non-scaling-stroke" style="vector-effect:non-scaling-stroke"><path d="M0 57L56 57" transform="translate(43.60,584.00) scale(0.2240,0.1700)" vector-effect="non-scaling-stroke"/><path d="M13 24L36 0L36 100" transform="translate(62.44,584.00) scale(0.2240,0.1700)" vector-effect="non-scaling-stroke"/><path d="M24.5 0C38 0 49 22 49 50C49 78 38 100 24.5 100C11 100 0 78 0 50C0 22 11 0 24.5 0Z" transform="translate(79.42,584.00) scale(0.2240,0.1700)" vector-effect="non-scaling-stroke"/><path d="M0 57L56 57" transform="translate(138.70,584.00) scale(0.2240,0.1700)" vector-effect="non-scaling-stroke"/><path d="M45 13C41 4 34 0 26 0C10 0 2 22 2 55C2 84 11 100 25 100C39 100 48 88 48 70C48 52 39 41 26 41C14 41 5 49 2 60" transform="translate(157.54,584.00) scale(0.2240,0.1700)" vector-effect="non-scaling-stroke"/><path d="M0 57L56 57" transform="translate(225.50,584.00) scale(0.2240,0.1700)" vector-effect="non-scaling-stroke"/><path d="M2 21C4 8 13 0 24.5 0C38 0 47 10 47 25C47 38 40 48 30 60L1 100L49 100" transform="translate(244.34,584.00) scale(0.2240,0.1700)" vector-effect="non-scaling-stroke"/><path d="M2 21C4 8 13 0 24.5 0C38 0 47 10 47 25C47 38 40 48 30 60L1 100L49 100" transform="translate(319.00,584.00) scale(0.2240,0.1700)" vector-effect="non-scaling-stroke"/><path d="M45 13C41 4 34 0 26 0C10 0 2 22 2 55C2 84 11 100 25 100C39 100 48 88 48 70C48 52 39 41 26 41C14 41 5 49 2 60" transform="translate(406.70,584.00) scale(0.2240,0.1700)" vector-effect="non-scaling-stroke"/><path d="M13 24L36 0L36 100" transform="translate(483.99,584.00) scale(0.2240,0.1700)" vector-effect="non-scaling-stroke"/><path d="M24.5 0C38 0 49 22 49 50C49 78 38 100 24.5 100C11 100 0 78 0 50C0 22 11 0 24.5 0Z" transform="translate(500.96,584.00) scale(0.2240,0.1700)" vector-effect="non-scaling-stroke"/><path d="M13 24L36 0L36 100" transform="translate(570.89,584.00) scale(0.2240,0.1700)" vector-effect="non-scaling-stroke"/><path d="M36 100L36 0L1 72L49 72" transform="translate(587.86,584.00) scale(0.2240,0.1700)" vector-effect="non-scaling-stroke"/><path d="M13 24L36 0L36 100" transform="translate(657.69,584.00) scale(0.2240,0.1700)" vector-effect="non-scaling-stroke"/><path d="M24.5 46C12 46 5 37 5 23C5 9 12 0 24.5 0C37 0 44 9 44 23C44 37 37 46 24.5 46C11 46 2 57 2 73C2 90 11 100 24.5 100C38 100 47 90 47 73C47 57 38 46 24.5 46Z" transform="translate(674.66,584.00) scale(0.2240,0.1700)" vector-effect="non-scaling-stroke"/></g>
<rect x="1117.20" y="549.3" width="29.93" height="21.90000000000009" fill="#3a50a8"/>
<rect x="1146.83" y="549.3" width="29.93" height="21.90000000000009" fill="#3e50aa"/>
<rect x="1176.46" y="549.3" width="29.93" height="21.90000000000009" fill="#4264b2"/>
<rect x="1206.10" y="549.3" width="29.93" height="21.90000000000009" fill="#4a7cc0"/>
<rect x="1235.73" y="549.3" width="29.93" height="21.90000000000009" fill="#5a94d2"/>
<rect x="1265.36" y="549.3" width="29.93" height="21.90000000000009" fill="#68b4e4"/>
<rect x="1294.99" y="549.3" width="29.93" height="21.90000000000009" fill="#70ccf2"/>
<rect x="1324.62" y="549.3" width="29.93" height="21.90000000000009" fill="#90dcf4"/>
<rect x="1354.25" y="549.3" width="29.93" height="21.90000000000009" fill="#b0e0f2"/>
<rect x="1383.89" y="549.3" width="29.93" height="21.90000000000009" fill="#c8e8f6"/>
<rect x="1413.52" y="549.3" width="29.93" height="21.90000000000009" fill="#dcf2ee"/>
<rect x="1443.15" y="549.3" width="29.93" height="21.90000000000009" fill="#f4f4d8"/>
<rect x="1472.78" y="549.3" width="29.93" height="21.90000000000009" fill="#fbf2b8"/>
<rect x="1502.41" y="549.3" width="29.93" height="21.90000000000009" fill="#fcf0a0"/>
<rect x="1532.05" y="549.3" width="29.93" height="21.90000000000009" fill="#fce08a"/>
<rect x="1561.68" y="549.3" width="29.93" height="21.90000000000009" fill="#fed070"/>
<rect x="1591.31" y="549.3" width="29.93" height="21.90000000000009" fill="#fcb458"/>
<rect x="1620.94" y="549.3" width="29.93" height="21.90000000000009" fill="#f8a040"/>
<rect x="1650.57" y="549.3" width="29.93" height="21.90000000000009" fill="#f08830"/>
<rect x="1680.20" y="549.3" width="29.93" height="21.90000000000009" fill="#f06828"/>
<rect x="1709.84" y="549.3" width="29.93" height="21.90000000000009" fill="#f05828"/>
<rect x="1739.47" y="549.3" width="29.93" height="21.90000000000009" fill="#e83020"/>
<path d="M1146.83 549.3V571.2M1176.46 549.3V571.2M1206.10 549.3V571.2M1235.73 549.3V571.2M1265.36 549.3V571.2M1294.99 549.3V571.2M1324.62 549.3V571.2M1354.25 549.3V571.2M1383.89 549.3V571.2M1413.52 549.3V571.2M1443.15 549.3V571.2M1472.78 549.3V571.2M1502.41 549.3V571.2M1532.05 549.3V571.2M1561.68 549.3V571.2M1591.31 549.3V571.2M1620.94 549.3V571.2M1650.57 549.3V571.2M1680.20 549.3V571.2M1709.84 549.3V571.2M1739.47 549.3V571.2" stroke="#222" stroke-width="1.5"/>
<rect x="1117.2" y="549.3" width="651.8999999999999" height="21.90000000000009" fill="none" stroke="#222" stroke-width="1.6"/>
<g fill="none" stroke="#111" stroke-width="2.0" stroke-linecap="round" stroke-linejoin="round" vector-effect="non-scaling-stroke" style="vector-effect:non-scaling-stroke"><path d="M0 57L56 57" transform="translate(1104.60,581.90) scale(0.2240,0.1700)" vector-effect="non-scaling-stroke"/><path d="M24.5 46C12 46 5 37 5 23C5 9 12 0 24.5 0C37 0 44 9 44 23C44 37 37 46 24.5 46C11 46 2 57 2 73C2 90 11 100 24.5 100C38 100 47 90 47 73C47 57 38 46 24.5 46Z" transform="translate(1123.44,581.90) scale(0.2240,0.1700)" vector-effect="non-scaling-stroke"/><path d="M0 57L56 57" transform="translate(1193.90,581.90) scale(0.2240,0.1700)" vector-effect="non-scaling-stroke"/><path d="M45 0L9 0L5 44C10 39 17 37 25 37C39 37 48 49 48 67C48 87 38 100 24 100C12 100 4 93 1 84" transform="translate(1212.74,581.90) scale(0.2240,0.1700)" vector-effect="non-scaling-stroke"/><path d="M0 57L56 57" transform="translate(1265.70,581.90) scale(0.2240,0.1700)" vector-effect="non-scaling-stroke"/><path d="M2 21C4 8 13 0 24.5 0C38 0 47 10 47 25C47 38 40 48 30 60L1 100L49 100" transform="translate(1284.54,581.90) scale(0.2240,0.1700)" vector-effect="non-scaling-stroke"/><path d="M1 97a2 2 0 1 0 4 0a2 2 0 1 0 -4 0Z" transform="translate(1300.92,581.90) scale(0.2240,0.1700)" vector-effect="non-scaling-stroke"/><path d="M45 0L9 0L5 44C10 39 17 37 25 37C39 37 48 49 48 67C48 87 38 100 24 100C12 100 4 93 1 84" transform="translate(1308.36,581.90) scale(0.2240,0.1700)" vector-effect="non-scaling-stroke"/><path d="M0 57L56 57" transform="translate(1371.00,581.90) scale(0.2240,0.1700)" vector-effect="non-scaling-stroke"/><path d="M13 24L36 0L36 100" transform="translate(1389.84,581.90) scale(0.2240,0.1700)" vector-effect="non-scaling-stroke"/><path d="M24.5 0C38 0 49 22 49 50C49 78 38 100 24.5 100C11 100 0 78 0 50C0 22 11 0 24.5 0Z" transform="translate(1449.50,581.90) scale(0.2240,0.1700)" vector-effect="non-scaling-stroke"/><path d="M1 97a2 2 0 1 0 4 0a2 2 0 1 0 -4 0Z" transform="translate(1465.88,581.90) scale(0.2240,0.1700)" vector-effect="non-scaling-stroke"/><path d="M45 0L9 0L5 44C10 39 17 37 25 37C39 37 48 49 48 67C48 87 38 100 24 100C12 100 4 93 1 84" transform="translate(1473.32,581.90) scale(0.2240,0.1700)" vector-effect="non-scaling-stroke"/><path d="M2 21C4 8 13 0 24.5 0C38 0 47 10 47 25C47 38 40 48 30 60L1 100L49 100" transform="translate(1555.20,581.90) scale(0.2240,0.1700)" vector-effect="non-scaling-stroke"/><path d="M36 100L36 0L1 72L49 72" transform="translate(1644.10,581.90) scale(0.2240,0.1700)" vector-effect="non-scaling-stroke"/><path d="M1 0L48 0L17 100" transform="translate(1735.10,581.90) scale(0.2240,0.1700)" vector-effect="non-scaling-stroke"/></g>
<text x="733" y="549" style="font-family:'Liberation Serif',serif;font-size:36px" fill="#111">Sv</text>
<text x="1792" y="553" style="font-family:'Liberation Serif',serif;font-size:36px" fill="#111">Sv</text>
</svg></body></html>
